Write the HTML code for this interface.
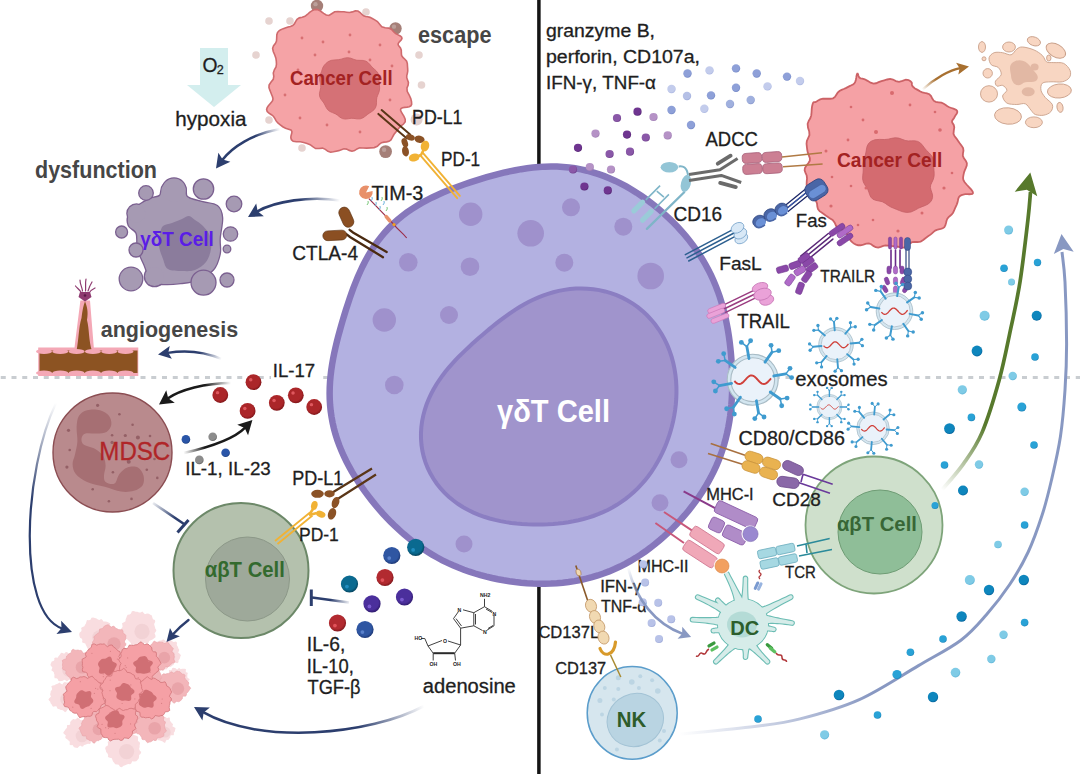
<!DOCTYPE html><html><head><meta charset="utf-8"><style>
html,body{margin:0;padding:0;background:#fff;overflow:hidden;width:1080px;height:775px;}
svg{display:block;font-family:"Liberation Sans",sans-serif;}
</style></head><body>
<svg width="1080" height="775" viewBox="0 0 1080 775">
<defs><linearGradient id="g1" gradientUnits="userSpaceOnUse" x1="280" y1="129" x2="255" y2="135"><stop offset="0" stop-color="#2c3e6e" stop-opacity="0.0"/><stop offset="1" stop-color="#2c3e6e" stop-opacity="1"/></linearGradient><linearGradient id="g2" gradientUnits="userSpaceOnUse" x1="340" y1="200.5" x2="300" y2="197"><stop offset="0" stop-color="#2c3e6e" stop-opacity="0.0"/><stop offset="1" stop-color="#2c3e6e" stop-opacity="1"/></linearGradient><linearGradient id="g3" gradientUnits="userSpaceOnUse" x1="221.5" y1="359" x2="200" y2="351"><stop offset="0" stop-color="#2c3e6e" stop-opacity="0.0"/><stop offset="1" stop-color="#2c3e6e" stop-opacity="1"/></linearGradient><radialGradient id="rg0" cx="0.45" cy="0.42" r="0.6"><stop offset="0" stop-color="#ab2629"/><stop offset="0.7" stop-color="#ab2629"/><stop offset="1" stop-color="#7c1418"/></radialGradient><radialGradient id="rg1" cx="0.45" cy="0.42" r="0.6"><stop offset="0" stop-color="#2a55a8"/><stop offset="0.7" stop-color="#2a55a8"/><stop offset="1" stop-color="#173a7a"/></radialGradient><radialGradient id="rg2" cx="0.45" cy="0.42" r="0.6"><stop offset="0" stop-color="#8c8c8c"/><stop offset="0.7" stop-color="#8c8c8c"/><stop offset="1" stop-color="#5e5e5e"/></radialGradient><linearGradient id="g4" gradientUnits="userSpaceOnUse" x1="231" y1="383" x2="205" y2="385"><stop offset="0" stop-color="#1a1a1a" stop-opacity="0.0"/><stop offset="1" stop-color="#1a1a1a" stop-opacity="1"/></linearGradient><linearGradient id="g5" gradientUnits="userSpaceOnUse" x1="183.6" y1="453" x2="205" y2="448"><stop offset="0" stop-color="#1a1a1a" stop-opacity="0.0"/><stop offset="1" stop-color="#1a1a1a" stop-opacity="1"/></linearGradient><linearGradient id="g6" gradientUnits="userSpaceOnUse" x1="153" y1="503" x2="175" y2="518"><stop offset="0" stop-color="#2c3e6e" stop-opacity="0.1"/><stop offset="1" stop-color="#2c3e6e" stop-opacity="1"/></linearGradient><radialGradient id="rg3" cx="0.45" cy="0.42" r="0.6"><stop offset="0" stop-color="#0a6a90"/><stop offset="0.7" stop-color="#0a6a90"/><stop offset="1" stop-color="#053f58"/></radialGradient><radialGradient id="rg4" cx="0.45" cy="0.42" r="0.6"><stop offset="0" stop-color="#2f56a2"/><stop offset="0.7" stop-color="#2f56a2"/><stop offset="1" stop-color="#1b3470"/></radialGradient><radialGradient id="rg5" cx="0.45" cy="0.42" r="0.6"><stop offset="0" stop-color="#b22a30"/><stop offset="0.7" stop-color="#b22a30"/><stop offset="1" stop-color="#7a1519"/></radialGradient><radialGradient id="rg6" cx="0.45" cy="0.42" r="0.6"><stop offset="0" stop-color="#4b2f9c"/><stop offset="0.7" stop-color="#4b2f9c"/><stop offset="1" stop-color="#2c1868"/></radialGradient><linearGradient id="g7" gradientUnits="userSpaceOnUse" x1="349" y1="602.5" x2="312" y2="597.5"><stop offset="0" stop-color="#2c3e6e" stop-opacity="0.1"/><stop offset="0.5" stop-color="#2c3e6e" stop-opacity="1"/><stop offset="1" stop-color="#2c3e6e" stop-opacity="1"/></linearGradient><linearGradient id="g8" gradientUnits="userSpaceOnUse" x1="56" y1="403" x2="36" y2="500"><stop offset="0" stop-color="#2c3e6e" stop-opacity="0.0"/><stop offset="1" stop-color="#2c3e6e" stop-opacity="1"/></linearGradient><linearGradient id="g9" gradientUnits="userSpaceOnUse" x1="424" y1="706" x2="360" y2="733"><stop offset="0" stop-color="#2c3e6e" stop-opacity="0.0"/><stop offset="1" stop-color="#2c3e6e" stop-opacity="1"/></linearGradient><radialGradient id="rg7" cx="0.45" cy="0.42" r="0.6"><stop offset="0" stop-color="#6f3590"/><stop offset="0.7" stop-color="#6f3590"/><stop offset="1" stop-color="#4f1f6e"/></radialGradient><radialGradient id="rg8" cx="0.45" cy="0.42" r="0.6"><stop offset="0" stop-color="#8a58a8"/><stop offset="0.7" stop-color="#8a58a8"/><stop offset="1" stop-color="#6a3a88"/></radialGradient><radialGradient id="rg9" cx="0.45" cy="0.42" r="0.6"><stop offset="0" stop-color="#b592c6"/><stop offset="0.7" stop-color="#b592c6"/><stop offset="1" stop-color="#9a78b0"/></radialGradient><radialGradient id="rg10" cx="0.45" cy="0.42" r="0.6"><stop offset="0" stop-color="#8ea0d8"/><stop offset="0.7" stop-color="#8ea0d8"/><stop offset="1" stop-color="#6f84c4"/></radialGradient><radialGradient id="rg11" cx="0.45" cy="0.42" r="0.6"><stop offset="0" stop-color="#c3ccec"/><stop offset="0.7" stop-color="#c3ccec"/><stop offset="1" stop-color="#a8b4e0"/></radialGradient><radialGradient id="rg12" cx="0.45" cy="0.42" r="0.6"><stop offset="0" stop-color="#b5c0e6"/><stop offset="0.7" stop-color="#b5c0e6"/><stop offset="1" stop-color="#98a6d8"/></radialGradient><radialGradient id="rg13" cx="0.45" cy="0.42" r="0.6"><stop offset="0" stop-color="#a0b0de"/><stop offset="0.7" stop-color="#a0b0de"/><stop offset="1" stop-color="#8494ca"/></radialGradient><linearGradient id="g10" gradientUnits="userSpaceOnUse" x1="922.4" y1="89.6" x2="935" y2="78"><stop offset="0" stop-color="#a87030" stop-opacity="0.0"/><stop offset="1" stop-color="#a87030" stop-opacity="1"/></linearGradient><linearGradient id="g11" gradientUnits="userSpaceOnUse" x1="942" y1="490" x2="985" y2="425"><stop offset="0" stop-color="#57792c" stop-opacity="0"/><stop offset="1" stop-color="#57792c" stop-opacity="1"/></linearGradient><linearGradient id="g12" gradientUnits="userSpaceOnUse" x1="679" y1="734" x2="870" y2="690"><stop offset="0" stop-color="#8898c2" stop-opacity="0"/><stop offset="1" stop-color="#8898c2" stop-opacity="1"/></linearGradient><radialGradient id="rg14" cx="0.45" cy="0.42" r="0.6"><stop offset="0" stop-color="#7fcbe6"/><stop offset="0.7" stop-color="#7fcbe6"/><stop offset="1" stop-color="#5db3d6"/></radialGradient><radialGradient id="rg15" cx="0.45" cy="0.42" r="0.6"><stop offset="0" stop-color="#29a2d6"/><stop offset="0.7" stop-color="#29a2d6"/><stop offset="1" stop-color="#1a80b5"/></radialGradient><radialGradient id="rg16" cx="0.45" cy="0.42" r="0.6"><stop offset="0" stop-color="#0e86bd"/><stop offset="0.7" stop-color="#0e86bd"/><stop offset="1" stop-color="#06629a"/></radialGradient><radialGradient id="rg17" cx="0.45" cy="0.42" r="0.6"><stop offset="0" stop-color="#b8c2e8"/><stop offset="0.7" stop-color="#b8c2e8"/><stop offset="1" stop-color="#9aa6d6"/></radialGradient><linearGradient id="g13" gradientUnits="userSpaceOnUse" x1="628" y1="567.3" x2="640" y2="600"><stop offset="0" stop-color="#8898c2" stop-opacity="0.0"/><stop offset="1" stop-color="#8898c2" stop-opacity="1"/></linearGradient></defs>
<line x1="538.9" y1="0" x2="538.9" y2="774" stroke="#141414" stroke-width="3.5"/>
<line x1="0" y1="377.5" x2="1080" y2="377.5" stroke="#c9cdd1" stroke-width="3" stroke-dasharray="5,5.75" stroke-dashoffset="-0.75"/>
<path d="M732.18,376 L732.25,381.69 L732.22,387.39 L732.07,393.1 L731.79,398.81 L731.39,404.52 L730.85,410.24 L730.15,415.95 L729.31,421.65 L728.29,427.33 L727.11,433 L725.75,438.63 L724.21,444.22 L722.48,449.77 L720.57,455.27 L718.48,460.71 L716.21,466.08 L713.76,471.38 L711.13,476.6 L708.35,481.74 L705.4,486.79 L702.3,491.76 L699.05,496.64 L695.66,501.43 L692.14,506.13 L688.5,510.74 L684.73,515.25 L680.84,519.67 L676.83,524 L672.71,528.22 L668.48,532.35 L664.13,536.37 L659.67,540.27 L655.1,544.06 L650.42,547.72 L645.62,551.25 L640.72,554.63 L635.7,557.86 L630.58,560.93 L625.35,563.82 L620.02,566.54 L614.59,569.07 L609.08,571.4 L603.48,573.54 L597.81,575.46 L592.07,577.18 L586.28,578.7 L580.44,580 L574.56,581.1 L568.65,582 L562.72,582.71 L556.78,583.22 L550.83,583.55 L544.88,583.7 L538.93,583.68 L533,583.5 L527.08,583.16 L521.18,582.67 L515.3,582.03 L509.45,581.24 L503.62,580.31 L497.83,579.24 L492.06,578.03 L486.34,576.67 L480.65,575.16 L475.01,573.5 L469.41,571.7 L463.88,569.73 L458.4,567.61 L452.99,565.33 L447.65,562.89 L442.39,560.29 L437.21,557.53 L432.13,554.62 L427.14,551.55 L422.25,548.33 L417.47,544.96 L412.79,541.46 L408.21,537.83 L403.75,534.07 L399.39,530.2 L395.13,526.22 L390.98,522.14 L386.92,517.96 L382.97,513.7 L379.11,509.34 L375.35,504.91 L371.69,500.39 L368.12,495.79 L364.65,491.11 L361.29,486.35 L358.03,481.51 L354.9,476.58 L351.89,471.56 L349.02,466.46 L346.3,461.26 L343.75,455.98 L341.37,450.61 L339.19,445.15 L337.2,439.62 L335.43,434.01 L333.89,428.34 L332.58,422.61 L331.51,416.83 L330.68,411.01 L330.09,405.17 L329.74,399.32 L329.62,393.47 L329.73,387.62 L330.04,381.8 L330.55,376 L331.24,370.24 L332.1,364.51 L333.09,358.83 L334.22,353.19 L335.45,347.6 L336.78,342.04 L338.18,336.53 L339.66,331.04 L341.19,325.58 L342.77,320.14 L344.4,314.72 L346.09,309.31 L347.83,303.91 L349.64,298.51 L351.52,293.12 L353.49,287.74 L355.56,282.38 L357.75,277.03 L360.08,271.72 L362.55,266.46 L365.19,261.25 L368,256.12 L371.01,251.09 L374.21,246.16 L377.61,241.36 L381.22,236.7 L385.03,232.2 L389.04,227.87 L393.24,223.72 L397.62,219.77 L402.17,216.01 L406.88,212.44 L411.72,209.08 L416.69,205.9 L421.77,202.92 L426.93,200.1 L432.17,197.45 L437.47,194.95 L442.82,192.59 L448.22,190.35 L453.65,188.23 L459.1,186.19 L464.58,184.25 L470.09,182.38 L475.62,180.58 L481.18,178.86 L486.77,177.2 L492.4,175.62 L498.06,174.12 L503.77,172.71 L509.53,171.41 L515.33,170.22 L521.17,169.17 L527.07,168.26 L533,167.53 L538.97,166.98 L544.97,166.63 L550.99,166.49 L557.03,166.59 L563.06,166.92 L569.08,167.49 L575.08,168.32 L581.04,169.4 L586.96,170.73 L592.81,172.3 L598.6,174.12 L604.3,176.16 L609.92,178.43 L615.45,180.91 L620.88,183.58 L626.2,186.43 L631.43,189.46 L636.54,192.65 L641.56,195.98 L646.46,199.45 L651.26,203.06 L655.95,206.78 L660.53,210.62 L665,214.57 L669.36,218.63 L673.6,222.8 L677.73,227.08 L681.73,231.46 L685.6,235.94 L689.34,240.53 L692.93,245.22 L696.38,250.02 L699.67,254.91 L702.79,259.9 L705.75,264.98 L708.53,270.15 L711.14,275.4 L713.58,280.72 L715.83,286.11 L717.91,291.55 L719.82,297.05 L721.56,302.59 L723.14,308.16 L724.57,313.76 L725.85,319.37 L726.99,325.01 L728,330.65 L728.89,336.31 L729.67,341.97 L730.33,347.63 L730.9,353.29 L731.37,358.96 L731.74,364.64 L732.01,370.31Z" fill="#b3b1e1" stroke="#8677bb" stroke-width="6.5"/>
<path d="M675.15,410 L674.24,415.67 L673.12,421.26 L671.8,426.77 L670.28,432.19 L668.56,437.52 L666.66,442.75 L664.58,447.88 L662.31,452.9 L659.86,457.81 L657.23,462.6 L654.42,467.27 L651.43,471.8 L648.26,476.18 L644.91,480.41 L641.38,484.47 L637.69,488.36 L633.82,492.06 L629.81,495.56 L625.64,498.87 L621.34,501.96 L616.91,504.84 L612.36,507.5 L607.72,509.95 L602.98,512.17 L598.17,514.19 L593.3,515.99 L588.38,517.59 L583.42,519 L578.42,520.22 L573.4,521.28 L568.35,522.16 L563.29,522.9 L558.21,523.49 L553.12,523.95 L548,524.28 L542.86,524.48 L537.69,524.56 L532.49,524.52 L527.25,524.34 L521.97,524.03 L516.66,523.56 L511.31,522.93 L505.92,522.13 L500.5,521.13 L495.07,519.92 L489.63,518.47 L484.2,516.78 L478.81,514.81 L473.48,512.57 L468.24,510.02 L463.11,507.17 L458.13,504 L453.33,500.51 L448.75,496.71 L444.43,492.6 L440.38,488.19 L436.66,483.49 L433.28,478.54 L430.28,473.35 L427.67,467.95 L425.48,462.37 L423.71,456.65 L422.37,450.82 L421.47,444.92 L421.01,438.98 L420.97,433.05 L421.34,427.16 L422.11,421.33 L423.25,415.6 L424.74,410 L426.55,404.55 L428.65,399.26 L431.01,394.15 L433.59,389.24 L436.36,384.52 L439.29,380 L442.36,375.68 L445.53,371.54 L448.78,367.59 L452.09,363.81 L455.43,360.18 L458.79,356.7 L462.17,353.34 L465.54,350.09 L468.92,346.93 L472.29,343.85 L475.66,340.83 L479.03,337.86 L482.41,334.93 L485.82,332.02 L489.25,329.14 L492.73,326.28 L496.28,323.43 L499.89,320.6 L503.6,317.79 L507.4,315.02 L511.33,312.29 L515.38,309.6 L519.57,306.99 L523.91,304.46 L528.41,302.04 L533.06,299.74 L537.88,297.59 L542.86,295.61 L548,293.82 L553.29,292.24 L558.72,290.91 L564.28,289.85 L569.95,289.07 L575.71,288.6 L581.55,288.45 L587.43,288.65 L593.33,289.21 L599.23,290.13 L605.1,291.44 L610.9,293.12 L616.6,295.19 L622.17,297.64 L627.58,300.47 L632.81,303.66 L637.81,307.2 L642.58,311.08 L647.08,315.27 L651.29,319.76 L655.2,324.51 L658.79,329.51 L662.05,334.72 L664.97,340.11 L667.56,345.66 L669.8,351.35 L671.7,357.13 L673.27,362.99 L674.51,368.89 L675.44,374.83 L676.07,380.77 L676.41,386.7 L676.47,392.6 L676.27,398.46 L675.83,404.26Z" fill="#a094cc" stroke="#8b7ec2" stroke-width="4"/>
<circle cx="470.7" cy="214.3" r="11.7" fill="#9f91cc"/>
<circle cx="530.7" cy="233.3" r="13.3" fill="#9f91cc"/>
<circle cx="571" cy="207.3" r="9" fill="#9f91cc"/>
<circle cx="623.3" cy="226.7" r="9" fill="#9f91cc"/>
<circle cx="650.7" cy="276" r="13.3" fill="#9f91cc"/>
<circle cx="564.3" cy="262.7" r="9" fill="#9f91cc"/>
<circle cx="470" cy="266.7" r="9.3" fill="#9f91cc"/>
<circle cx="408.3" cy="262.3" r="9.3" fill="#9f91cc"/>
<circle cx="449" cy="315" r="9" fill="#9f91cc"/>
<circle cx="384.3" cy="320" r="11.7" fill="#9f91cc"/>
<circle cx="394.3" cy="385" r="9.3" fill="#9f91cc"/>
<circle cx="679" cy="459.7" r="8.5" fill="#9f91cc"/>
<circle cx="660" cy="502.8" r="8.5" fill="#9f91cc"/>
<circle cx="464" cy="544" r="8.5" fill="#9f91cc"/>
<text x="497" y="421.9" font-size="31.4" fill="#ffffff" font-weight="bold" text-anchor="start" textLength="113" lengthAdjust="spacingAndGlyphs" >γδT Cell</text>
<path d="M200,48 H228 V85 H241 L214,107 L187,85 H200Z" fill="#d3eeee"/>
<text x="202.5" y="71.9" font-size="20" fill="#1e1e1e" font-weight="normal" text-anchor="start" textLength="15" lengthAdjust="spacingAndGlyphs" stroke="#1e1e1e" stroke-width="0.3" >O</text>
<text x="216.8" y="74.3" font-size="13.5" fill="#1e1e1e" font-weight="normal" text-anchor="start" textLength="7" lengthAdjust="spacingAndGlyphs" stroke="#1e1e1e" stroke-width="0.3" >2</text>
<text x="175.3" y="125.8" font-size="20.4" fill="#1e1e1e" font-weight="normal" text-anchor="start" textLength="71.2" lengthAdjust="spacingAndGlyphs" stroke="#1e1e1e" stroke-width="0.3" >hypoxia</text>
<text x="418" y="42.9" font-size="23.5" fill="#464646" font-weight="bold" text-anchor="start" textLength="73.5" lengthAdjust="spacingAndGlyphs" >escape</text>
<text x="35" y="178" font-size="23.5" fill="#464646" font-weight="bold" text-anchor="start" textLength="122" lengthAdjust="spacingAndGlyphs" >dysfunction</text>
<text x="100.8" y="337.2" font-size="22.7" fill="#464646" font-weight="bold" text-anchor="start" textLength="137.3" lengthAdjust="spacingAndGlyphs" >angiogenesis</text>
<circle cx="317" cy="6" r="6.2" fill="#a57f78"/>
<circle cx="315.5" cy="4.2" r="2.17" fill="#ffffff" opacity="0.25"/>
<circle cx="395.5" cy="28.5" r="6.2" fill="#a57f78"/>
<circle cx="394.0" cy="26.7" r="2.17" fill="#ffffff" opacity="0.25"/>
<circle cx="385.6" cy="151.6" r="6.4" fill="#a57f78"/>
<circle cx="384.1" cy="149.79999999999998" r="2.2399999999999998" fill="#ffffff" opacity="0.25"/>
<circle cx="269" cy="21" r="3.8" fill="#e6d3d0"/>
<circle cx="290" cy="21" r="3.8" fill="#e6d3d0"/>
<circle cx="366" cy="12" r="3.8" fill="#e6d3d0"/>
<circle cx="256" cy="55" r="3.8" fill="#e6d3d0"/>
<circle cx="419" cy="55" r="3.8" fill="#e6d3d0"/>
<circle cx="421.5" cy="85" r="3.8" fill="#e6d3d0"/>
<circle cx="269" cy="120" r="3.8" fill="#e6d3d0"/>
<circle cx="302" cy="148" r="3.8" fill="#e6d3d0"/>
<circle cx="416.6" cy="119.4" r="6" fill="#e2cfcd"/>
<circle cx="415.1" cy="117.60000000000001" r="2.0999999999999996" fill="#ffffff" opacity="0.25"/>
<path d="M313.93,9.81 L315.83,9.35 L317.61,9.6 L319.42,10.45 L321.38,11.74 L323.64,13.39 L326.22,15.03 L328.94,15.45 L331.66,13.72 L334.66,11.76 L337.9,11.51 L341.05,11.77 L343.98,11.82 L346.76,12.17 L349.5,12.46 L352.34,11.89 L355.28,10.91 L357.96,10.98 L360.14,12.51 L361.93,14.47 L363.67,15.83 L365.61,16.46 L367.75,16.78 L369.98,17.36 L372.26,18.49 L374.77,19.91 L377.43,21.6 L379.64,24.21 L381.78,26.82 L385.1,27.76 L388.82,28.12 L391.61,29.5 L393.56,31.74 L395.67,33.62 L398.14,34.89 L400.29,36.02 L401.65,37.25 L401.96,38.49 L401.37,39.69 L400.28,40.9 L399.08,42.15 L398.21,43.49 L398.17,44.89 L399.12,46.35 L400.46,48.02 L401.29,50.23 L401.34,52.9 L401.58,55.43 L402.87,57.42 L404.89,59.2 L406.63,61.23 L407.34,63.64 L407.49,66.18 L407.67,68.64 L407.75,71.04 L407.35,73.36 L406.78,75.57 L406.75,77.72 L407.54,79.96 L408.42,82.41 L408.17,85.07 L406.98,87.98 L407.19,91.29 L409.21,95 L410.78,98.6 L411.52,101.73 L411.68,104.22 L410.9,105.83 L409.24,106.7 L407.07,107.11 L404.73,107.36 L402.56,107.73 L400.97,108.53 L400.5,109.9 L401.12,111.71 L402.43,113.91 L403.97,116.45 L405.17,119.17 L405.25,121.78 L403.53,124.02 L400.75,126.12 L398.34,128.81 L396.1,131.73 L393.92,134.51 L392.37,137.4 L390.96,139.84 L389.04,141.32 L386.61,141.9 L384.01,142.11 L381.59,142.69 L379.51,144.22 L377.31,146.32 L374.21,147.59 L370.44,147.86 L366.71,148.14 L363.01,148.01 L359.66,147.86 L356.99,148.9 L354.58,150.57 L352.02,151.24 L349.27,150.38 L346.55,149.09 L343.93,148.82 L341.35,149.69 L338.74,150.64 L336.11,151.25 L333.42,151.83 L330.66,152.18 L327.93,151.38 L325.33,149.39 L322.52,148.1 L319.1,148.53 L315.6,148.56 L312.76,146.7 L310.15,144.67 L307.08,143.51 L303.75,142.49 L300.2,141.82 L296.34,141.81 L293.18,141.27 L291.42,139.7 L290.85,137.84 L290.96,136.14 L291.39,134.55 L291.82,132.97 L291.88,131.39 L290.97,130.03 L288.61,129.18 L285.53,128.3 L282.76,126.74 L280.26,124.86 L277.86,122.99 L276.12,120.93 L274.97,118.64 L273.58,116.47 L271.44,114.72 L268.97,113.19 L267.19,111.49 L266.62,109.54 L267.17,107.58 L268.4,105.76 L269.91,104.03 L271.4,102.33 L272.56,100.58 L272.98,98.74 L272.5,96.81 L271.65,94.74 L270.79,92.51 L269.84,90.17 L268.97,87.7 L269.09,85.05 L270.93,82.23 L273.25,79.33 L273.79,76.31 L273.29,73.03 L274.35,69.87 L276.02,67 L276.47,64.09 L276.31,61.12 L275.89,58.15 L274.76,54.95 L273.26,51.52 L272.63,48.34 L273.59,45.75 L275.35,43.54 L276.49,41.03 L276.69,37.98 L276.8,34.98 L277.5,32.61 L278.76,31.01 L280.34,29.93 L282.07,29.12 L283.9,28.41 L285.87,27.72 L288.05,27.06 L290.43,26.42 L292.67,25.56 L294.36,23.95 L295.59,21.57 L297.04,19.23 L299.28,17.88 L302.19,17.32 L305.02,16.38 L307.35,14.47 L309.56,12.42 L311.81,10.89Z" fill="#f5a3a6" stroke="#cf6a6d" stroke-width="1.6"/>
<path d="M324.29,65.27 L325.93,63.43 L328.25,61.59 L331.38,60.34 L334.96,59.9 L338.28,59.7 L341.27,59.13 L344.31,58.17 L347.59,57.63 L350.91,58.23 L353.94,59.44 L356.84,60.25 L359.95,60.37 L363.15,60.43 L366.01,61.2 L368.22,62.69 L369.88,64.49 L371.33,66.25 L372.82,67.83 L374.47,69.31 L376.21,70.86 L377.79,72.8 L378.8,75.31 L379.09,78.13 L379.08,80.82 L379.22,83.16 L379.46,85.16 L379.61,87.05 L379.59,88.95 L379.29,90.96 L378.61,93.09 L377.68,95.3 L376.87,97.55 L376.52,99.96 L376.52,102.56 L376.32,105.2 L375.51,107.69 L373.98,109.83 L371.88,111.49 L369.66,112.9 L367.57,114.38 L365.47,116.08 L363.05,117.81 L360.14,118.86 L356.94,118.87 L353.92,118.42 L351.14,118.31 L348.32,118.72 L345.37,119.09 L342.48,118.62 L339.94,117.18 L337.64,115.29 L335.2,113.69 L332.39,112.57 L329.6,111.32 L327.46,109.49 L326.06,107.28 L324.99,105.06 L323.83,103.01 L322.41,101.08 L320.86,99.05 L319.68,96.6 L319.42,93.69 L320.05,90.64 L320.71,87.77 L320.66,85.09 L320.09,82.42 L319.6,79.69 L319.62,77.13 L320.16,74.89 L320.97,72.99 L321.65,71.33 L322.1,69.81 L322.55,68.34 L323.22,66.87Z" fill="#d57176" stroke="#c66367" stroke-width="0.8"/>
<circle cx="302" cy="38" r="1.4" fill="#d87073"/>
<circle cx="323" cy="42" r="1.4" fill="#d87073"/>
<circle cx="350" cy="35" r="1.4" fill="#d87073"/>
<circle cx="380" cy="45" r="1.4" fill="#d87073"/>
<circle cx="392" cy="66" r="1.4" fill="#d87073"/>
<circle cx="298" cy="70" r="1.4" fill="#d87073"/>
<circle cx="285" cy="95" r="1.4" fill="#d87073"/>
<circle cx="300" cy="118" r="1.4" fill="#d87073"/>
<circle cx="327" cy="125" r="1.4" fill="#d87073"/>
<circle cx="360" cy="132" r="1.4" fill="#d87073"/>
<circle cx="390" cy="100" r="1.4" fill="#d87073"/>
<circle cx="315" cy="55" r="1.4" fill="#d87073"/>
<circle cx="370" cy="60" r="1.4" fill="#d87073"/>
<circle cx="349" cy="52" r="1.4" fill="#d87073"/>
<circle cx="381" cy="116" r="1.4" fill="#d87073"/>
<path d="M128.9,215.2 C130.42,211.93 134.48,208.7 138,206 C141.52,203.3 146.33,200.72 150,199 C153.67,197.28 157.83,197.87 160,195.7 C162.17,193.53 160.4,188.53 163,186 C165.6,183.47 171.93,180.33 175.6,180.5 C179.27,180.67 183.1,184.25 185,187 C186.9,189.75 184.25,194.5 187,197 C189.75,199.5 196.5,200.5 201.5,202 C206.5,203.5 213.58,203.37 217,206 C220.42,208.63 221.57,212.38 222,217.8 C222.43,223.22 220,232.47 219.6,238.5 C219.2,244.53 220.7,248.82 219.6,254 C218.5,259.18 216.88,265.27 213,269.6 C209.12,273.93 201.68,277.77 196.3,280 C190.92,282.23 185.92,282.33 180.7,283 C175.48,283.67 169.78,284.28 165,284 C160.22,283.72 155.43,284.55 152,281.3 C148.57,278.05 146.73,269.88 144.4,264.5 C142.07,259.12 139.28,254.2 138,249 C136.72,243.8 138.22,237.2 136.7,233.3 C135.18,229.4 130.2,228.62 128.9,225.6 C127.6,222.58 127.38,218.47 128.9,215.2Z" fill="#a69ab3" stroke="#7b6090" stroke-width="2.6"/>
<circle cx="136.5" cy="213.5" r="9" fill="#a69ab3" stroke="#7b6090" stroke-width="2.6"/>
<circle cx="154.5" cy="276.5" r="9.5" fill="#a69ab3" stroke="#7b6090" stroke-width="2.6"/>
<circle cx="174" cy="190" r="11.5" fill="#a69ab3" stroke="#7b6090" stroke-width="2.6"/>
<path d="M128.9,215.2 C130.42,211.93 134.48,208.7 138,206 C141.52,203.3 146.33,200.72 150,199 C153.67,197.28 157.83,197.87 160,195.7 C162.17,193.53 160.4,188.53 163,186 C165.6,183.47 171.93,180.33 175.6,180.5 C179.27,180.67 183.1,184.25 185,187 C186.9,189.75 184.25,194.5 187,197 C189.75,199.5 196.5,200.5 201.5,202 C206.5,203.5 213.58,203.37 217,206 C220.42,208.63 221.57,212.38 222,217.8 C222.43,223.22 220,232.47 219.6,238.5 C219.2,244.53 220.7,248.82 219.6,254 C218.5,259.18 216.88,265.27 213,269.6 C209.12,273.93 201.68,277.77 196.3,280 C190.92,282.23 185.92,282.33 180.7,283 C175.48,283.67 169.78,284.28 165,284 C160.22,283.72 155.43,284.55 152,281.3 C148.57,278.05 146.73,269.88 144.4,264.5 C142.07,259.12 139.28,254.2 138,249 C136.72,243.8 138.22,237.2 136.7,233.3 C135.18,229.4 130.2,228.62 128.9,225.6 C127.6,222.58 127.38,218.47 128.9,215.2Z" fill="#a69ab3"/>
<circle cx="136.5" cy="213.5" r="9" fill="#a69ab3"/>
<circle cx="154.5" cy="276.5" r="9.5" fill="#a69ab3"/>
<circle cx="174" cy="190" r="11.5" fill="#a69ab3"/>
<circle cx="146" cy="193" r="7.3" fill="#a69ab3" stroke="#7b6090" stroke-width="1.3"/>
<circle cx="234" cy="204" r="7.8" fill="#a69ab3" stroke="#7b6090" stroke-width="1.3"/>
<circle cx="121.6" cy="232" r="6" fill="#a69ab3" stroke="#7b6090" stroke-width="1.3"/>
<circle cx="230.5" cy="234" r="7.2" fill="#a69ab3" stroke="#7b6090" stroke-width="1.3"/>
<circle cx="227" cy="249" r="3.8" fill="#a69ab3" stroke="#7b6090" stroke-width="1.3"/>
<circle cx="227" cy="280" r="7" fill="#a69ab3" stroke="#7b6090" stroke-width="1.3"/>
<circle cx="203.5" cy="189" r="10.2" fill="#a69ab3" stroke="#7b6090" stroke-width="1.3"/>
<circle cx="136" cy="250" r="7" fill="#a69ab3" stroke="#7b6090" stroke-width="1.3"/>
<circle cx="131" cy="279" r="11.8" fill="#a69ab3" stroke="#7b6090" stroke-width="1.3"/>
<circle cx="203.5" cy="282.6" r="12.5" fill="#a69ab3" stroke="#7b6090" stroke-width="1.3"/>
<path d="M163,226 C165,224.17 168.83,224.17 172,223 C175.17,221.83 179.17,220.17 182,219 C184.83,217.83 186.83,215.83 189,216 C191.17,216.17 192.67,218.33 195,220 C197.33,221.67 200.5,223.33 203,226 C205.5,228.67 208.67,232.17 210,236 C211.33,239.83 211.67,244.67 211,249 C210.33,253.33 208.67,258.5 206,262 C203.33,265.5 199,268.5 195,270 C191,271.5 186.5,271.17 182,271 C177.5,270.83 171.17,271 168,269 C164.83,267 164.5,262.83 163,259 C161.5,255.17 159.5,250.17 159,246 C158.5,241.83 159.33,237.33 160,234 C160.67,230.67 161,227.83 163,226Z" fill="#8b7c9c"/>
<text x="290" y="84.9" font-size="19.7" fill="#a32222" font-weight="bold" text-anchor="start" textLength="102.6" lengthAdjust="spacingAndGlyphs" >Cancer Cell</text>
<text x="140.3" y="246.3" font-size="20" fill="#5a1de6" font-weight="bold" text-anchor="start" textLength="73.5" lengthAdjust="spacingAndGlyphs" >γδT Cell</text>
<path d="M280,129 C252,134 232,147 222.27,160.08" fill="none" stroke="url(#g1)" stroke-width="2.6" stroke-linecap="round"/>
<path d="M216,168.5 L218.34,152.79 L222.69,159.51 L230.37,161.75Z" fill="#2c3e6e"/>
<path d="M340,200.5 C310,196 275,201 257.03,211.65" fill="none" stroke="url(#g2)" stroke-width="2.6" stroke-linecap="round"/>
<path d="M248,217 L256.22,203.41 L257.64,211.29 L263.87,216.31Z" fill="#2c3e6e"/>
<path d="M221.5,359 C205,352 185,350 167.62,352.9" fill="none" stroke="url(#g3)" stroke-width="2.4" stroke-linecap="round"/>
<path d="M158,354.5 L169.75,345.95 L168.26,352.79 L171.89,358.77Z" fill="#2c3e6e"/>
<path d="M38.2,347.5 H74.5 L80.4,300.4 H90 L93.8,347.5 H138.3 V376 H38.2Z" fill="#f4a8b6"/>
<rect x="39.5" y="350.5" width="98" height="22.5" fill="#8c5322"/>
<path d="M76.5,351 C79,338 78.5,328 81.5,318 C82.5,310 83.5,305 85,301.5 C87,306 88.5,312 87,320 C89.5,330 88.5,340 92,351Z" fill="#8c5322"/>
<ellipse cx="44" cy="351.5" rx="8" ry="2.6" fill="#f4a8b6"/><ellipse cx="60.3" cy="351.5" rx="8" ry="2.6" fill="#f4a8b6"/><ellipse cx="76.6" cy="351.5" rx="8" ry="2.6" fill="#f4a8b6"/><ellipse cx="92.9" cy="351.5" rx="8" ry="2.6" fill="#f4a8b6"/><ellipse cx="109.2" cy="351.5" rx="8" ry="2.6" fill="#f4a8b6"/><ellipse cx="125.5" cy="351.5" rx="8" ry="2.6" fill="#f4a8b6"/><ellipse cx="44" cy="373" rx="8" ry="2.6" fill="#f4a8b6"/><ellipse cx="60.3" cy="373" rx="8" ry="2.6" fill="#f4a8b6"/><ellipse cx="76.6" cy="373" rx="8" ry="2.6" fill="#f4a8b6"/><ellipse cx="92.9" cy="373" rx="8" ry="2.6" fill="#f4a8b6"/><ellipse cx="109.2" cy="373" rx="8" ry="2.6" fill="#f4a8b6"/><ellipse cx="125.5" cy="373" rx="8" ry="2.6" fill="#f4a8b6"/>
<path d="M80,292 L90,292 L91.5,297 L85,301.5 L78.5,297Z" fill="#8e3a70"/>
<circle cx="85" cy="295.5" r="1.3" fill="#5a1a45"/>
<path d="M81,292 C79,289 77,288 75.5,286 M82.5,291 C82,287 80,284 80,280 M85.5,291 C86,287 85,284 86,279 M88,291 C89,288 90,285 92,282 M89.5,292.5 C91,290 93,289 95,288" stroke="#8e3a70" stroke-width="1.2" fill="none" stroke-linecap="round"/>
<text x="412" y="123.7" font-size="19.8" fill="#1e1e1e" font-weight="normal" text-anchor="start" textLength="50.5" lengthAdjust="spacingAndGlyphs" stroke="#1e1e1e" stroke-width="0.3" >PD-L1</text>
<text x="441" y="165.8" font-size="19.5" fill="#1e1e1e" font-weight="normal" text-anchor="start" textLength="39.2" lengthAdjust="spacingAndGlyphs" stroke="#1e1e1e" stroke-width="0.3" >PD-1</text>
<text x="371.5" y="200.2" font-size="19.4" fill="#1e1e1e" font-weight="normal" text-anchor="start" textLength="51.8" lengthAdjust="spacingAndGlyphs" stroke="#1e1e1e" stroke-width="0.3" >TIM-3</text>
<text x="292.3" y="260.2" font-size="19.4" fill="#1e1e1e" font-weight="normal" text-anchor="start" textLength="65.8" lengthAdjust="spacingAndGlyphs" stroke="#1e1e1e" stroke-width="0.3" >CTLA-4</text>
<rect x="271" y="370" width="50" height="12" fill="#fff"/>
<text x="272.8" y="376.8" font-size="18.4" fill="#1e1e1e" font-weight="normal" text-anchor="start" textLength="42.4" lengthAdjust="spacingAndGlyphs" stroke="#1e1e1e" stroke-width="0.3" >IL-17</text>
<circle cx="112.5" cy="452.5" r="59.5" fill="#b98a8d" stroke="#8b4d52" stroke-width="1.4"/>
<path d="M87.1,410.2 C90.6,409.27 96.37,409.27 100,410.2 C103.63,411.13 107.02,413.38 108.9,415.8 C110.78,418.22 111.7,422.02 111.3,424.7 C110.9,427.38 108.92,430.43 106.5,431.9 C104.08,433.37 100.3,433.23 96.8,433.5 C93.3,433.77 88.05,432.68 85.5,433.5 C82.95,434.32 81.77,436.52 81.5,438.4 C81.23,440.28 81.62,443.05 83.9,444.8 C86.18,446.55 91.98,447.02 95.2,448.9 C98.42,450.78 101.47,453.28 103.2,456.1 C104.93,458.92 105.47,462.57 105.6,465.8 C105.73,469.03 104,472.82 104,475.5 C104,478.18 103.85,480.57 105.6,481.9 C107.35,483.23 112.2,484.83 114.5,483.5 C116.8,482.17 117.25,476.58 119.4,473.9 C121.55,471.22 124.32,468.48 127.4,467.4 C130.48,466.32 135.22,466.05 137.9,467.4 C140.58,468.75 142.7,472.53 143.5,475.5 C144.3,478.47 144.3,482.65 142.7,485.2 C141.1,487.75 137.52,489.73 133.9,490.8 C130.28,491.87 125.85,492.27 121,491.6 C116.15,490.93 110.45,488.42 104.8,486.8 C99.15,485.18 91.93,484.05 87.1,481.9 C82.27,479.75 78.22,476.85 75.8,473.9 C73.38,470.95 72.73,467.43 72.6,464.2 C72.47,460.97 74.2,458.27 75,454.5 C75.8,450.73 77.13,446.17 77.4,441.6 C77.67,437.03 76.33,431.4 76.6,427.1 C76.87,422.8 77.25,418.62 79,415.8 C80.75,412.98 83.6,411.13 87.1,410.2Z" fill="#a66f73"/>
<circle cx="97.6" cy="405.3" r="1.6" fill="#946066"/>
<circle cx="119.4" cy="414.2" r="1.3" fill="#946066"/>
<circle cx="132.6" cy="424.7" r="1.3" fill="#946066"/>
<circle cx="112.1" cy="435.2" r="1.3" fill="#946066"/>
<circle cx="125.3" cy="435.5" r="1.6" fill="#946066"/>
<circle cx="137.9" cy="437.6" r="2" fill="#946066"/>
<circle cx="150" cy="436" r="1.3" fill="#946066"/>
<circle cx="68.5" cy="430.3" r="1.6" fill="#946066"/>
<circle cx="69.7" cy="450" r="1.3" fill="#946066"/>
<circle cx="66.9" cy="467.1" r="1.6" fill="#946066"/>
<circle cx="112.1" cy="442.4" r="1.6" fill="#946066"/>
<circle cx="128.7" cy="461.8" r="2" fill="#946066"/>
<circle cx="154.5" cy="459" r="1.3" fill="#946066"/>
<circle cx="146.8" cy="469.8" r="1.3" fill="#946066"/>
<circle cx="157.3" cy="477.9" r="1.3" fill="#946066"/>
<circle cx="112.9" cy="472.3" r="1.3" fill="#946066"/>
<circle cx="92.7" cy="489.2" r="1.3" fill="#946066"/>
<circle cx="108.9" cy="501.3" r="1.3" fill="#946066"/>
<circle cx="131.5" cy="498.9" r="1.3" fill="#946066"/>
<text x="99.3" y="460.2" font-size="25.5" fill="#b02528" font-weight="normal" text-anchor="start" textLength="71" lengthAdjust="spacingAndGlyphs" stroke="#b02528" stroke-width="0.3" >MDSC</text>
<circle cx="253.5" cy="382.2" r="7.9" fill="url(#rg0)"/>
<circle cx="250.74" cy="379.83" r="1.74" fill="#f06a70" opacity="0.75"/>
<circle cx="220.3" cy="395" r="7.9" fill="url(#rg0)"/>
<circle cx="217.54" cy="392.63" r="1.74" fill="#f06a70" opacity="0.75"/>
<circle cx="247.6" cy="410.9" r="7.9" fill="url(#rg0)"/>
<circle cx="244.84" cy="408.53" r="1.74" fill="#f06a70" opacity="0.75"/>
<circle cx="276.8" cy="402.8" r="7.9" fill="url(#rg0)"/>
<circle cx="274.04" cy="400.43" r="1.74" fill="#f06a70" opacity="0.75"/>
<circle cx="295.8" cy="395.3" r="7.9" fill="url(#rg0)"/>
<circle cx="293.04" cy="392.93" r="1.74" fill="#f06a70" opacity="0.75"/>
<circle cx="314.2" cy="407" r="7.9" fill="url(#rg0)"/>
<circle cx="311.44" cy="404.63" r="1.74" fill="#f06a70" opacity="0.75"/>
<circle cx="185.9" cy="439.4" r="4.3" fill="url(#rg1)"/>
<circle cx="212.7" cy="436.7" r="4.3" fill="url(#rg2)"/>
<circle cx="199.3" cy="459.9" r="4.3" fill="url(#rg2)"/>
<circle cx="225.6" cy="452.7" r="4.3" fill="url(#rg1)"/>
<text x="185.2" y="475" font-size="18.4" fill="#1e1e1e" font-weight="normal" text-anchor="start" textLength="85.6" lengthAdjust="spacingAndGlyphs" stroke="#1e1e1e" stroke-width="0.3" >IL-1, IL-23</text>
<path d="M231,383 C205,383 180,390 167.64,398.53" fill="none" stroke="url(#g4)" stroke-width="2.6" stroke-linecap="round"/>
<path d="M159,404.5 L166.26,390.37 L168.22,398.14 L174.78,402.72Z" fill="#1a1a1a"/>
<path d="M183.6,453 C210,447 235,438 245.1,427.55" fill="none" stroke="url(#g5)" stroke-width="2.6" stroke-linecap="round"/>
<path d="M252.4,420 L248.06,435.28 L244.62,428.05 L237.28,424.85Z" fill="#1a1a1a"/>
<path d="M153,503 L184,524" stroke="url(#g6)" stroke-width="2.6" fill="none"/>
<path d="M177.5,532.5 L188.5,520" stroke="#2c3e6e" stroke-width="3" fill="none"/>
<circle cx="241" cy="570.5" r="67.5" fill="#b4c1ad" stroke="#6c8868" stroke-width="2"/>
<circle cx="247.5" cy="579" r="42" fill="#9ea99a" stroke="#8c9888" stroke-width="1"/>
<text x="204.8" y="577.1" font-size="21.7" fill="#336a2e" font-weight="bold" text-anchor="start" textLength="80" lengthAdjust="spacingAndGlyphs" >αβT Cell</text>
<path d="M372,468.5 L330,494 M376,474.5 L336,500" stroke="#5a3617" stroke-width="2.2" fill="none"/>
<ellipse cx="317.5" cy="493.8" rx="6.3" ry="4" transform="rotate(0 317.5 493.8)" fill="#8b5226"/>
<ellipse cx="329.5" cy="493.8" rx="5.2" ry="3.6" transform="rotate(0 329.5 493.8)" fill="#8b5226"/>
<ellipse cx="335.5" cy="502.5" rx="3.6" ry="5.8" transform="rotate(20 335.5 502.5)" fill="#8b5226"/>
<ellipse cx="332" cy="513.8" rx="3.9" ry="6" transform="rotate(20 332 513.8)" fill="#8b5226"/>
<path d="M275,541 L310,512.5 M277.5,544 L312.5,515.5" stroke="#f1b235" stroke-width="1.8" fill="none"/>
<ellipse cx="314.3" cy="505.5" rx="3.2" ry="4.6" transform="rotate(15 314.3 505.5)" fill="#f1b235" stroke="none" stroke-width="0.8"/>
<ellipse cx="320.8" cy="514.2" rx="4.8" ry="3.2" transform="rotate(20 320.8 514.2)" fill="#f1b235" stroke="none" stroke-width="0.8"/>
<path d="M309,515 L313,509 M309,515 L317,513" stroke="#f1b235" stroke-width="2.6" fill="none"/>
<text x="292.2" y="484.6" font-size="19.5" fill="#1e1e1e" font-weight="normal" text-anchor="start" textLength="51" lengthAdjust="spacingAndGlyphs" stroke="#1e1e1e" stroke-width="0.3" >PD-L1</text>
<text x="299" y="541" font-size="19" fill="#1e1e1e" font-weight="normal" text-anchor="start" textLength="39.8" lengthAdjust="spacingAndGlyphs" stroke="#1e1e1e" stroke-width="0.3" >PD-1</text>
<circle cx="415.7" cy="547.3" r="8.6" fill="url(#rg3)"/>
<circle cx="413.12" cy="549.88" r="1.89" fill="#2a9ad0" opacity="0.75"/>
<circle cx="391.8" cy="555.5" r="8.6" fill="url(#rg4)"/>
<circle cx="389.22" cy="558.08" r="1.89" fill="#6a90d8" opacity="0.75"/>
<circle cx="385" cy="577.5" r="8.6" fill="url(#rg5)"/>
<circle cx="382.42" cy="580.08" r="1.89" fill="#f06068" opacity="0.75"/>
<circle cx="349.5" cy="584" r="8.6" fill="url(#rg3)"/>
<circle cx="346.92" cy="586.58" r="1.89" fill="#2a9ad0" opacity="0.75"/>
<circle cx="404.5" cy="597" r="8.6" fill="url(#rg6)"/>
<circle cx="401.92" cy="599.58" r="1.89" fill="#8a6ae0" opacity="0.75"/>
<circle cx="372" cy="603.8" r="8.6" fill="url(#rg6)"/>
<circle cx="369.42" cy="606.38" r="1.89" fill="#8a6ae0" opacity="0.75"/>
<circle cx="337.5" cy="623" r="8.6" fill="url(#rg5)"/>
<circle cx="334.92" cy="625.58" r="1.89" fill="#f06068" opacity="0.75"/>
<circle cx="365" cy="629.5" r="8.6" fill="url(#rg4)"/>
<circle cx="362.42" cy="632.08" r="1.89" fill="#6a90d8" opacity="0.75"/>
<path d="M349,602.5 L312,597.5" stroke="url(#g7)" stroke-width="2.6" fill="none"/>
<path d="M311.3,589.5 L311.3,606" stroke="#2c3e6e" stroke-width="3" fill="none"/>
<text x="306.8" y="651" font-size="19.8" fill="#1e1e1e" font-weight="normal" text-anchor="start" textLength="38.5" lengthAdjust="spacingAndGlyphs" stroke="#1e1e1e" stroke-width="0.3" >IL-6,</text>
<text x="306.8" y="672.5" font-size="19.8" fill="#1e1e1e" font-weight="normal" text-anchor="start" textLength="47" lengthAdjust="spacingAndGlyphs" stroke="#1e1e1e" stroke-width="0.3" >IL-10,</text>
<text x="307.5" y="694" font-size="19.8" fill="#1e1e1e" font-weight="normal" text-anchor="start" textLength="53" lengthAdjust="spacingAndGlyphs" stroke="#1e1e1e" stroke-width="0.3" >TGF-β</text>
<text x="422.8" y="692.6" font-size="20" fill="#1e1e1e" font-weight="normal" text-anchor="start" textLength="93" lengthAdjust="spacingAndGlyphs" stroke="#1e1e1e" stroke-width="0.3" >adenosine</text>
<g stroke="#2a2a2a" stroke-width="0.9" fill="none" stroke-linejoin="round"><path d="M484.5,598.8 L484.5,606.7 L492.5,611.5 M494,615 L494,625.8 L486.5,630.5 M482.5,630.5 L473.8,625.8 L473.8,612.7 L484.5,606.7"/><path d="M486,609 L492,612.5 M475.5,614 L475.5,624.5 M488,628.5 L493,625.5"/><path d="M473.8,612.7 L463,609.8 M458.5,611.5 L453.5,618.6 L460.6,628.2 L473.8,625.8 M456,618.6 L461.5,626"/><path d="M460.6,628.2 L460.6,645 L448,641 M442,640.5 L428,646 L433.2,653.2 M454.7,653.2 L460.6,645"/><path d="M428,646 L424.8,638.5 L421,638.5 M433.2,653.2 L433.2,660.5 M454.7,653.2 L455.5,660.5"/></g>
<path d="M433.2,653.2 L454.7,653.2" stroke="#2a2a2a" stroke-width="2"/>
<text x="480" y="597" font-size="5.2" fill="#222" font-weight="bold" text-anchor="start" >NH2</text>
<text x="492.5" y="615.5" font-size="5.2" fill="#222" font-weight="bold" text-anchor="start" >N</text>
<text x="483" y="633.5" font-size="5.2" fill="#222" font-weight="bold" text-anchor="start" >N</text>
<text x="457.5" y="612" font-size="5.2" fill="#222" font-weight="bold" text-anchor="start" >N</text>
<text x="443" y="642.5" font-size="5.2" fill="#222" font-weight="bold" text-anchor="start" >O</text>
<text x="414.5" y="640" font-size="5.2" fill="#222" font-weight="bold" text-anchor="start" >HO</text>
<text x="429.5" y="666" font-size="5.2" fill="#222" font-weight="bold" text-anchor="start" >OH</text>
<text x="453" y="666" font-size="5.2" fill="#222" font-weight="bold" text-anchor="start" >OH</text>
<path d="M111.25,634.4 L111.37,635.86 L112.65,637.61 L112.23,639.17 L110.65,640.26 L110.93,642.11 L111.03,644.11 L109.69,645.23 L108.44,646.34 L106.62,646.73 L104.73,646.72 L103.96,648.35 L102.71,649.39 L100.77,648.49 L99.36,648.79 L98.03,649.91 L96.5,650.4 L94.82,651.44 L93.14,651.27 L91.91,649.54 L90.23,649.53 L88.28,649.78 L87.39,648.04 L86.65,646.4 L85.81,645.09 L85.33,643.57 L83.63,643 L82.01,642.15 L82.41,640.24 L81.91,638.82 L80.07,637.67 L79.5,636.07 L79.25,634.4 L79.52,632.73 L81.26,631.37 L81.6,629.88 L81.08,628.01 L82.71,627.03 L84.42,626.33 L84.95,624.93 L85.81,623.71 L86.32,621.99 L86.96,620.12 L88.87,620.13 L90.46,619.82 L91.49,617.87 L93.12,617.41 L94.89,618.06 L96.5,618.4 L97.96,619.6 L99.39,619.89 L101.2,618.92 L102.48,619.96 L103.37,621.56 L105.16,621.43 L106.95,621.67 L108.44,622.46 L110.06,623.27 L110.24,625.22 L110.23,627.06 L111.97,627.99 L112.54,629.54 L111.45,631.43 L111.34,632.94Z" fill="#f9dde0"/>
<circle cx="99.5" cy="637.4" r="7.2" fill="#f2d2d5"/>
<path d="M155.3,628.5 L156.37,630.21 L155.75,631.83 L154.55,633.22 L155.4,635.29 L155.53,637.33 L153.88,638.44 L152.52,639.6 L150.86,640.36 L149.2,640.93 L148.49,642.71 L147.01,643.49 L144.87,642.68 L143.56,643.54 L142.31,645.13 L140.69,645.71 L139,646.52 L137.25,646.26 L135.72,644.97 L133.85,645.49 L131.89,645.67 L130.95,643.56 L130.02,641.94 L128.79,640.94 L127.84,639.66 L126.07,639.11 L124.7,638.06 L124.94,636.01 L123.83,634.78 L121.61,633.78 L121.12,632.06 L121.09,630.26 L121.3,628.5 L122.54,626.88 L122.4,625.2 L122.02,623.35 L123.99,622.28 L125.54,621.31 L125.61,619.55 L126.24,618.03 L126.82,616.32 L127.63,614.65 L129.61,614.44 L130.99,613.51 L131.86,611.27 L133.69,611 L135.68,611.79 L137.36,611.87 L139,612.52 L140.58,612.43 L142.36,611.62 L143.72,612.95 L144.9,614.25 L146.98,613.58 L148.91,613.67 L150.36,614.66 L151.88,615.62 L152.36,617.54 L152.97,619.17 L154.93,619.99 L155.25,621.77 L154.14,623.91 L154.47,625.42 L154.93,626.93Z" fill="#f9dde0"/>
<circle cx="142" cy="631.5" r="7.65" fill="#f2d2d5"/>
<path d="M179.69,653.7 L180.98,655.18 L180.32,656.55 L180.03,657.96 L179.45,659.27 L178.5,660.38 L178.6,662.12 L177.53,663.16 L175.07,662.77 L174,663.45 L173.48,664.9 L172.31,665.5 L171.29,666.47 L170.02,666.94 L168.57,666.61 L167.43,668.19 L166,669.68 L164.54,668.53 L163.24,667.58 L161.88,667.29 L160.76,666.35 L159.37,666.1 L158.21,665.36 L158.2,663.21 L157.25,662.45 L155.09,662.65 L154.09,661.66 L153.37,660.45 L152.5,659.29 L152.52,657.79 L151.49,656.59 L150.23,655.25 L151.69,653.7 L153.12,652.43 L152.86,651.09 L153.24,649.83 L153.58,648.56 L153.81,647.18 L155.32,646.56 L155.88,645.4 L155.27,642.97 L156.24,641.81 L157.93,641.62 L159.11,640.81 L160.57,640.6 L161.89,640.15 L163.11,639.15 L164.68,640.32 L166,641.68 L167.28,640.66 L168.7,640.12 L170,640.5 L171.48,640.48 L172.57,641.4 L173.76,642.08 L175.96,641.57 L177.05,642.65 L176.74,644.89 L177.37,646.1 L178.06,647.25 L178.36,648.58 L179.32,649.66 L178.95,651.12 L178.1,652.51Z" fill="#f9dde0"/>
<circle cx="169" cy="656.7" r="6.3" fill="#f2d2d5"/>
<path d="M80.31,667.3 L78.6,668.59 L77.93,669.77 L77.87,671.05 L77.57,672.3 L78.18,674.08 L77.7,675.45 L75.91,675.85 L75.57,677.37 L75.41,679.38 L73.89,679.85 L72.37,680.15 L70.83,680.18 L69.22,679.57 L68.14,680.59 L66.9,681.51 L65.5,680.15 L64.27,679.78 L62.81,680.81 L61.36,680.95 L59.75,681.18 L58.29,680.79 L57.74,678.91 L56.53,678.23 L54.62,678.18 L54.34,676.46 L54.51,674.65 L53.98,673.46 L53.84,672.13 L52.73,671.17 L51.28,670.13 L52.04,668.63 L52.31,667.3 L50.74,665.85 L50.47,664.31 L51.08,662.93 L51.7,661.58 L53.48,660.88 L54.42,659.9 L54.27,658.08 L55.77,657.57 L57.65,657.73 L58.33,656.57 L59.17,655.46 L60.12,654.31 L61.09,652.77 L62.68,653.12 L64.15,653.64 L65.5,652.15 L67.02,651.92 L68.28,653.35 L69.49,654.15 L70.47,655.31 L71.49,656.1 L73.3,655.63 L74.3,656.58 L74.42,658.38 L75.98,658.7 L77.79,659.09 L78.68,660.26 L79.71,661.41 L79.52,663.05 L78.74,664.67 L79.9,665.88Z" fill="#f9dde0"/>
<circle cx="68.5" cy="670.3" r="6.3" fill="#f2d2d5"/>
<path d="M79.04,696.3 L78.03,697.73 L77.73,699.13 L77.4,700.52 L76.61,701.73 L76.59,703.3 L75.28,704.17 L72.95,704.06 L72.43,705.23 L72.27,706.99 L71.09,707.66 L70.07,708.59 L68.87,709.26 L67.48,709.41 L66.46,711.16 L65.07,712.24 L63.5,710.69 L62.16,709.88 L60.77,710 L59.56,709.28 L58.23,709.02 L57.1,708.27 L56.72,706.44 L55.31,706.28 L53.03,706.77 L52.16,705.61 L51.54,704.29 L50.56,703.22 L50.29,701.77 L49.24,700.63 L48.4,699.3 L50.05,697.62 L51.04,696.3 L50.16,694.99 L50.27,693.67 L50.6,692.39 L50.74,691.02 L51.9,690.1 L52,688.62 L51.31,686.29 L52.64,685.44 L54.51,685.34 L55.53,684.38 L56.87,683.9 L58.15,683.39 L59.35,682.62 L60.99,683.7 L62.33,684.38 L63.5,682.69 L64.91,682.02 L66.24,682.54 L67.69,682.49 L68.95,683.15 L70.3,683.57 L72.28,683.16 L73.07,684.64 L72.83,686.97 L73.8,687.84 L74.82,688.73 L75.25,690.02 L76.16,691.06 L76.03,692.5 L75.86,693.84 L77.92,694.88Z" fill="#f9dde0"/>
<circle cx="66.5" cy="699.3" r="6.3" fill="#f2d2d5"/>
<path d="M91.14,733 L91.84,734.26 L92.47,735.68 L92.47,737.09 L92.75,738.7 L91.63,739.75 L90.47,740.66 L90.85,742.73 L90.04,744.04 L87.9,743.85 L86.51,744.24 L85.22,744.64 L83.96,744.97 L83.06,746.38 L81.67,746.43 L80.22,745.38 L79,746.59 L77.52,747.98 L76.08,747.65 L74.63,747.41 L73.42,746.48 L72.54,745.09 L70.86,745.18 L69.57,744.49 L69.82,742.18 L69.35,740.92 L68.07,740.3 L67.26,739.27 L65.87,738.44 L65.18,737.19 L65.86,735.61 L64.74,734.4 L63.14,733 L63.98,731.52 L65.01,730.22 L65.68,728.96 L66.88,727.98 L66.94,726.55 L67.19,725.11 L69.21,724.96 L70.24,724.24 L70.14,722.2 L70.96,720.96 L72.02,719.95 L73.24,719.1 L74.93,719.58 L76.21,718.96 L77.48,717.52 L79,718.59 L80.27,720.11 L81.55,720.19 L82.76,720.62 L84.13,720.61 L85.74,720.39 L86.42,721.9 L87.33,722.85 L89.62,722.38 L91,723.15 L91.35,724.75 L91.96,726.07 L91.74,727.72 L91.98,729.06 L93.32,730.15 L92.61,731.66Z" fill="#f9dde0"/>
<circle cx="82" cy="736" r="6.3" fill="#f2d2d5"/>
<path d="M139.16,748.6 L139.52,750.17 L141.17,752.1 L140.64,753.77 L139.1,755.02 L139.09,756.88 L138.62,758.64 L137.41,759.93 L136.3,761.3 L134.11,761.4 L132.13,761.36 L131.41,763.22 L130.12,764.33 L128.25,763.94 L126.77,764.53 L125.23,765.16 L123.6,765.69 L121.78,767.13 L120.01,766.67 L118.73,764.67 L117.02,764.48 L115.2,764.31 L114.15,762.74 L113.04,761.46 L112.34,759.86 L111.89,758.21 L109.76,757.85 L107.97,756.95 L108.17,754.99 L107.49,753.49 L106.19,752.06 L105.82,750.35 L105.16,748.6 L105.69,746.84 L107.83,745.46 L108.1,743.9 L107.68,742.01 L109.11,740.85 L110.35,739.75 L111.13,738.36 L112.25,737.25 L112.54,735.12 L113.24,733.09 L115.39,733.23 L117.1,732.92 L118.38,731.4 L120.14,731.19 L121.9,731.33 L123.6,731.69 L125.11,733.29 L126.64,733.32 L128.6,732.13 L130.03,733.07 L131.23,734.32 L133.04,734.47 L134.61,735.18 L136.39,735.81 L138.17,736.64 L138.03,738.96 L137.96,740.92 L139.58,741.98 L140.03,743.62 L139.54,745.43 L139.66,747.02Z" fill="#f9dde0"/>
<circle cx="126.6" cy="751.6" r="7.65" fill="#f2d2d5"/>
<path d="M175.26,729.2 L174.95,730.45 L174.67,731.66 L173.73,732.67 L173.96,734.03 L173.62,735.25 L171.34,735.24 L170.25,735.73 L170.34,737.24 L169.63,738.14 L168.95,739.16 L168.1,740.04 L166.71,739.84 L165.89,741.04 L165.03,742.93 L163.58,742.24 L162.3,741.13 L161.13,741.06 L160.07,740.41 L158.92,740.34 L157.68,740.34 L157.29,738.58 L156.57,737.77 L154.59,738.59 L153.3,738.2 L152.59,737.17 L151.63,736.33 L151.53,734.96 L150.85,733.94 L149.33,733.14 L150.14,731.62 L151.67,730.25 L151.26,729.2 L151.06,728.09 L151.13,726.98 L150.76,725.7 L151.79,724.85 L152.45,723.94 L151.38,721.9 L151.7,720.5 L153.37,720.27 L154.41,719.58 L155.62,719.2 L156.78,718.88 L157.52,717.67 L158.93,718.08 L160.35,719.39 L161.23,718.35 L162.3,717.13 L163.48,717.17 L164.75,716.87 L165.89,717.37 L166.87,718.17 L168.6,717.41 L169.91,717.82 L169.82,720.04 L170.27,721.23 L171.14,721.94 L171.58,723 L172.69,723.64 L173.02,724.76 L172.29,726.17 L173.68,726.94 L175.55,727.89Z" fill="#f9dde0"/>
<circle cx="165.3" cy="732.2" r="5.4" fill="#f2d2d5"/>
<path d="M189.63,678.9 L189.4,680.04 L188.21,680.97 L188.86,682.26 L189.11,683.59 L188.32,684.52 L187.69,685.51 L186.01,685.63 L184.5,685.6 L184.59,687.17 L183.95,688.1 L182.45,687.6 L181.65,688.19 L180.9,689.1 L179.97,689.81 L179.03,691.35 L177.8,691.22 L176.74,689.62 L175.6,689.98 L174.31,690.42 L173.56,689.14 L172.83,688.2 L172.28,687.16 L171.93,686.05 L170.27,686.43 L168.81,686.28 L169.06,684.74 L168.39,683.93 L166.88,683.42 L166.34,682.38 L165.65,681.32 L165.89,680.07 L167.63,678.9 L167.51,677.89 L166.63,676.68 L167.81,675.87 L168.79,675.17 L168.92,674.15 L169.4,673.28 L169,671.68 L168.95,670.05 L170.63,670.16 L171.73,669.81 L172.08,668.2 L173.23,667.87 L174.51,668.05 L175.68,668.23 L176.87,669.45 L177.8,669.22 L178.9,667.72 L179.89,668.4 L180.69,669.36 L181.98,668.82 L183.2,668.8 L184.51,668.86 L185.89,669.04 L185.82,670.88 L185.82,672.32 L187.35,672.52 L187.8,673.56 L187.21,675 L187.39,675.99 L187.23,677.02 L187.79,677.92Z" fill="#f9dde0"/>
<circle cx="180.8" cy="681.9" r="4.95" fill="#f2d2d5"/>
<circle cx="121" cy="692" r="44" fill="#f2b3b7"/>
<path d="M124.29,642 L125.74,643.55 L125.82,645.15 L124.37,646.36 L124.35,647.95 L124.42,649.71 L123.92,651.3 L123.68,653.23 L122.03,654.03 L119.77,653.91 L118.92,655.35 L117.84,656.67 L115.93,656.31 L114.37,656.39 L112.89,656.51 L111.43,656.57 L110,658.28 L108.33,658.95 L106.92,657.49 L105.33,657.4 L103.42,657.88 L101.98,657 L100.58,656.1 L99.71,654.54 L99.68,652.32 L98.29,651.61 L96.5,651.02 L96.56,649.18 L96.3,647.68 L95.13,646.51 L94.45,645.09 L93.04,643.67 L92.29,642 L93.9,640.41 L94.43,638.9 L93.75,637.07 L94.79,635.7 L96.2,634.62 L97.32,633.53 L98.95,632.93 L99.4,631.4 L99.47,629.17 L101.14,628.74 L102.76,628.45 L103.68,626.74 L105.08,625.77 L106.64,625.12 L108.3,624.72 L110,626.28 L111.47,627.1 L113.16,626.11 L114.62,626.78 L115.67,628.32 L117.07,628.78 L118.36,629.49 L120.01,629.8 L122.31,629.69 L123.03,631.31 L123.11,633.24 L124.78,634.1 L125.86,635.43 L125.75,637.22 L125.84,638.85 L124.88,640.53Z" fill="#f3b6ba" stroke="#eaa3a8" stroke-width="0.6"/>
<circle cx="114" cy="644" r="6.72" fill="#e9a4a9"/>
<path d="M92.4,665.3 L92.44,666.72 L92.15,668.11 L90.98,669.24 L91.63,670.95 L92.6,673.1 L91.24,674.15 L89.85,675.02 L89.06,676.36 L87.69,677.11 L86.65,678.25 L85.37,679.09 L83.25,677.98 L81.83,677.92 L80.86,679.66 L79.45,680.05 L78,680 L76.52,680.33 L75.12,679.77 L73.49,680.18 L71.47,681.06 L70.45,679.42 L69.9,677.42 L68.53,676.84 L67.54,675.76 L66.73,674.55 L65.72,673.51 L66.01,671.71 L65.65,670.42 L63.28,669.77 L62.36,668.41 L62.79,666.8 L62.4,665.3 L62.58,663.78 L62.73,662.26 L62.27,660.53 L63.91,659.46 L66.14,658.96 L66.3,657.48 L66.66,655.99 L67.84,655.14 L68.66,653.92 L69.99,653.31 L71.23,652.63 L71.77,650.26 L73.12,649.21 L75,650.24 L76.51,650.19 L78,650 L79.46,650.47 L80.97,650.35 L82.2,651.47 L82.95,653.34 L84.6,652.96 L86.57,652.48 L87.56,653.65 L88.76,654.54 L89.92,655.52 L90.66,656.84 L92.47,657.57 L93.36,658.94 L91.99,661.06 L91.78,662.56 L92.64,663.86Z" fill="#f3b6ba" stroke="#eaa3a8" stroke-width="0.6"/>
<circle cx="82" cy="667.3" r="6.3" fill="#e9a4a9"/>
<path d="M189.48,686.6 L190.69,688.25 L189.54,689.71 L188.61,691.06 L187.75,692.34 L186.5,693.34 L186.4,694.95 L185.57,696.17 L183.35,696.05 L182.46,697.03 L182.23,699.06 L181.11,700.08 L179.92,701.13 L178.49,701.74 L176.81,701.22 L175.44,702.21 L173.9,703.33 L172.4,701.78 L171.15,700.4 L169.77,700.2 L168.55,699.51 L167.04,699.44 L165.51,699.16 L165.06,697.37 L163.87,696.63 L161.42,696.84 L160.33,695.67 L159.95,694.06 L159.38,692.61 L159.73,690.9 L159.24,689.52 L158.16,688.15 L159.48,686.6 L160.83,685.31 L160.12,683.86 L159.91,682.35 L160.03,680.86 L160.04,679.19 L161.46,678.29 L162.38,677.14 L162.14,674.84 L163.43,673.84 L165.56,674.12 L166.97,673.63 L168.44,673.42 L169.78,673.03 L170.95,671.79 L172.5,672.36 L173.9,673.33 L175.35,671.93 L177.01,670.98 L178.48,671.5 L180.03,671.8 L181.18,672.98 L182.18,674.21 L184.09,674.18 L185.08,675.42 L184.61,677.81 L185.27,679 L186.41,679.92 L187.1,681.13 L188.43,682.19 L188.66,683.66 L188.01,685.21Z" fill="#f3b6ba" stroke="#eaa3a8" stroke-width="0.6"/>
<circle cx="177.9" cy="688.6" r="6.3" fill="#e9a4a9"/>
<path d="M107.58,727.3 L109.56,728.78 L109.23,730.23 L108.21,731.46 L108.05,732.91 L107.21,734.09 L106.66,735.42 L106.14,736.85 L103.93,736.73 L102.22,736.7 L101.92,738.4 L100.98,739.42 L99.67,739.78 L98.54,740.63 L97.15,740.62 L95.88,741.27 L94.5,743.16 L92.98,742.69 L91.79,740.94 L90.43,740.73 L89.13,740.25 L88.04,739.38 L86.74,738.92 L86.33,737.26 L85.99,735.81 L83.86,736.03 L82.21,735.51 L81.97,734 L81.14,732.83 L80.62,731.51 L80.32,730.12 L79.04,728.82 L79.58,727.3 L81.69,726.04 L81.76,724.77 L81.42,723.33 L82.19,722.2 L82.51,720.89 L83.38,719.87 L84.5,719.09 L84.13,716.93 L84.45,715.06 L86.36,715.12 L87.78,714.73 L88.96,713.91 L90.42,713.83 L91.69,713.16 L93.13,713.41 L94.5,715.16 L95.73,714.83 L97.25,713.48 L98.55,713.94 L99.85,714.38 L101.24,714.68 L102.29,715.63 L104.09,715.62 L105.79,716.01 L105.5,718.27 L105.49,719.96 L106.66,720.8 L107.01,722.12 L107.42,723.38 L107.78,724.66 L106.9,726.08Z" fill="#f3b6ba" stroke="#eaa3a8" stroke-width="0.6"/>
<circle cx="98.5" cy="729.3" r="5.88" fill="#e9a4a9"/>
<path d="M164.7,726.3 L164.8,727.69 L165.44,729.23 L166.45,731.08 L165.15,732.29 L163.72,733.26 L163.96,735.16 L163.2,736.56 L161.55,737.15 L160.19,737.86 L158.36,737.77 L157.04,738.15 L156.45,740.17 L155.06,740.66 L153.41,739.94 L152.14,740.89 L150.7,741.82 L149.14,742.12 L147.45,742.65 L146.13,741.37 L145.21,739.55 L143.52,739.73 L142.03,739.27 L141.63,737.35 L140.85,736.15 L140.05,735.04 L139.19,733.99 L137.03,733.61 L135.99,732.39 L136.66,730.56 L135.75,729.27 L134.45,727.9 L134.7,726.3 L134.94,724.75 L136.02,723.38 L137.74,722.37 L137.44,720.81 L137.26,719.12 L139.01,718.49 L140.01,717.53 L140.33,715.93 L141.16,714.67 L141.7,712.82 L142.89,711.7 L144.96,712.45 L146.35,711.95 L147.56,710.52 L149.2,711.04 L150.7,711.82 L152.08,712.26 L153.3,713.23 L154.84,712.66 L156.69,711.83 L157.66,713.28 L158.7,714.33 L160.66,714.16 L162.06,714.94 L163.24,716.01 L164.14,717.32 L163.49,719.47 L163.71,720.91 L165.37,721.85 L165.17,723.42 L164.31,724.96Z" fill="#f3b6ba" stroke="#eaa3a8" stroke-width="0.6"/>
<circle cx="154.7" cy="728.3" r="6.3" fill="#e9a4a9"/>
<path d="M173.98,655.6 L174.35,656.98 L173.8,658.29 L173.95,659.74 L175.04,661.71 L173.8,662.82 L171.69,663.21 L171.01,664.39 L170.07,665.37 L168.9,666.07 L168,667.12 L166.34,666.9 L164.97,666.87 L164.38,669.06 L163.22,670.3 L161.71,669.89 L160.3,670.18 L158.88,670.05 L157.48,669.76 L155.83,670.34 L154.71,669.09 L154.36,666.71 L153.14,666.32 L151.65,666.14 L150.85,665.05 L149.7,664.3 L149.05,663.11 L148.66,661.82 L146.48,661.32 L145.07,660.22 L146.01,658.44 L146.21,656.99 L145.98,655.6 L146.49,654.24 L146.34,652.82 L147.16,651.61 L149.17,650.99 L149.11,649.62 L148.41,647.66 L149.37,646.63 L150.27,645.57 L151.13,644.43 L152.44,643.84 L153.14,642.21 L154.25,641 L156.25,642.26 L157.76,642.84 L158.96,642.02 L160.3,642.18 L161.62,642.18 L162.95,642.3 L163.96,643.55 L165.43,643.22 L167.56,642.02 L168.69,643.04 L169.41,644.5 L170.65,645.25 L171.34,646.54 L172.34,647.56 L173.36,648.62 L172.35,650.61 L171.86,652.09 L173.47,652.98 L174.07,654.24Z" fill="#f3b6ba" stroke="#eaa3a8" stroke-width="0.6"/>
<circle cx="164.3" cy="657.6" r="5.88" fill="#e9a4a9"/>
<path d="M121.63,663.4 L121.28,665.27 L120.47,667.01 L122.03,669.38 L122.49,671.76 L120.01,672.87 L118.54,674.25 L117.72,676.06 L116.1,677.2 L114.98,678.85 L113.12,679.6 L110.49,678.72 L109.23,680.13 L108.15,682.7 L106.17,682.86 L104.23,682.97 L102.3,683.39 L100.38,682.89 L98.24,683.83 L95.99,684.2 L94.85,681.38 L93.67,679.55 L91.57,679.46 L90.15,678.21 L88.77,676.93 L87.43,675.6 L87.36,673.38 L85.71,672.27 L82.63,671.55 L82.35,669.45 L82.93,667.25 L82.24,665.38 L82.43,663.4 L82.27,661.43 L82.03,659.37 L84.52,658.01 L86.27,656.76 L85.44,654.39 L85.95,652.48 L87.42,651.19 L88.38,649.48 L90.11,648.54 L91.35,647.01 L92.01,644.15 L94.23,643.91 L96.77,645.19 L98.52,644.41 L100.39,643.96 L102.3,644.19 L104.22,643.88 L105.88,645.39 L107.37,646.69 L109.85,645.16 L112.15,644.98 L113.34,646.87 L115.01,647.91 L116.49,649.21 L117.73,650.73 L119.95,651.61 L120.28,653.79 L118.85,656.55 L119.86,658.07 L121.37,659.61 L121.25,661.53Z" fill="#f5a0a5" stroke="#d27478" stroke-width="0.8"/>
<path d="M116.36,666.3 L115.46,667.64 L114.82,668.84 L114.43,670.09 L113.92,671.33 L113.09,672.39 L112.11,673.33 L111.11,674.37 L109.95,675.39 L108.51,675.84 L107,675.31 L105.75,674.17 L104.71,673.36 L103.39,673.38 L101.58,673.76 L99.79,673.51 L98.86,672.21 L99,670.37 L99.5,668.74 L99.46,667.49 L98.76,666.3 L98.08,664.89 L98.08,663.4 L98.75,662.1 L99.68,660.98 L100.64,659.94 L101.76,659.09 L103.12,658.68 L104.51,658.65 L105.76,658.46 L107,657.71 L108.51,656.79 L110.15,656.62 L111.38,657.7 L111.92,659.52 L112.24,661.06 L113.1,661.87 L114.69,662.38 L116.24,663.3 L116.84,664.74Z" fill="#d06f74"/>
<circle cx="110.4" cy="651.32" r="0.6" fill="#d98085"/>
<circle cx="112.33" cy="674.67" r="0.6" fill="#d98085"/>
<circle cx="117.38" cy="659.08" r="0.6" fill="#d98085"/>
<circle cx="103.31" cy="676.63" r="0.6" fill="#d98085"/>
<circle cx="103.24" cy="673.98" r="0.6" fill="#d98085"/>
<circle cx="91.93" cy="653.34" r="0.6" fill="#d98085"/>
<path d="M161.05,663.4 L159.31,665.4 L157.78,667.14 L158.76,669.39 L158.11,671.32 L156.05,672.51 L154.87,674.01 L153.23,675.08 L152.23,676.63 L152.28,679.58 L150.52,680.65 L148.08,680.39 L146.79,682.2 L145.18,683.77 L143.11,684.06 L141.08,684.54 L139,683.17 L137.21,681.58 L135.14,682.82 L133.08,682.91 L131.8,680.79 L130.11,680.03 L128.22,679.54 L126.42,678.73 L123.72,678.68 L122.37,677.05 L122.76,674.25 L121.2,672.92 L119.3,671.56 L119.54,669.3 L119.6,667.26 L120.1,665.26 L121.05,663.4 L119.5,661.48 L118.55,659.33 L120.48,657.78 L121.16,656.01 L120.77,653.66 L121.61,651.78 L122.31,649.7 L123.95,648.35 L126.91,648.66 L128.3,647.39 L129.23,645.11 L131.48,645.24 L133.57,645.49 L135.31,644.83 L137.16,644.73 L139,643.17 L141.13,641.77 L142.94,643.59 L144.69,644.63 L147.1,643.83 L148.97,644.75 L150.44,646.28 L151.79,647.81 L152,650.4 L153.29,651.67 L156.02,652.03 L156.47,654.06 L156.26,656.25 L157.81,657.69 L158.84,659.45 L159.91,661.34Z" fill="#f5a0a5" stroke="#d27478" stroke-width="0.8"/>
<path d="M151.62,665.3 L150.5,666.49 L150.2,667.64 L150.52,669.13 L150.58,670.81 L149.83,672.13 L148.48,672.85 L147.03,673.2 L145.68,673.55 L144.35,673.82 L143,673.76 L141.72,673.41 L140.44,673.16 L138.96,673.22 L137.28,673.17 L135.93,672.37 L135.47,670.77 L135.81,668.96 L136.04,667.56 L135.36,666.51 L134.02,665.3 L133.11,663.73 L133.46,662.2 L134.83,661.14 L136.34,660.46 L137.39,659.69 L138.14,658.61 L139.04,657.52 L140.24,656.81 L141.6,656.44 L143,656.16 L144.47,656.03 L145.88,656.42 L146.95,657.54 L147.63,658.93 L148.37,659.93 L149.71,660.42 L151.49,660.97 L152.77,662.12 L152.74,663.76Z" fill="#d06f74"/>
<circle cx="127.66" cy="657.97" r="0.6" fill="#d98085"/>
<circle cx="126.24" cy="667.36" r="0.6" fill="#d98085"/>
<circle cx="125.24" cy="665.64" r="0.6" fill="#d98085"/>
<circle cx="138.21" cy="677.49" r="0.6" fill="#d98085"/>
<circle cx="150.13" cy="672.24" r="0.6" fill="#d98085"/>
<circle cx="148.82" cy="661.19" r="0.6" fill="#d98085"/>
<path d="M103.97,696.3 L103.22,698.2 L104.31,700.36 L105.36,702.81 L103.03,704.22 L101,705.44 L100.5,707.39 L99.1,708.78 L97.9,710.3 L96.53,711.7 L93.98,711.39 L92.55,712.48 L91.87,715.53 L89.98,716.35 L87.85,716.16 L85.92,716.82 L83.9,716.51 L81.87,716.91 L79.64,717.69 L78.12,715.36 L76.96,713.05 L74.82,713.29 L72.96,712.67 L71.56,711.34 L69.83,710.37 L69.15,708.41 L67.86,707.02 L64.7,706.56 L63.74,704.65 L64.67,702.13 L64.09,700.24 L63.85,698.27 L63.97,696.3 L63.41,694.28 L65.07,692.56 L67.08,691.2 L66.08,688.92 L65.73,686.59 L67.24,685.17 L68.18,683.4 L69.61,682.01 L71.16,680.78 L71.76,678.13 L73.69,677.2 L76.56,678.58 L78.37,678.07 L80.05,676.92 L82,677.01 L83.9,676.51 L85.79,677.1 L87.45,678.46 L89.73,677.08 L92.27,676.1 L93.68,678.01 L95.18,679.41 L96.93,680.42 L98.11,682.09 L100.07,683.03 L101.12,684.79 L99.97,687.71 L100.7,689.34 L102.95,690.52 L103.33,692.44 L103.66,694.35Z" fill="#f5a0a5" stroke="#d27478" stroke-width="0.8"/>
<path d="M92.84,699.2 L93.36,700.7 L92.96,702.14 L91.99,703.32 L90.99,704.35 L90.04,705.34 L88.95,706.14 L87.67,706.6 L86.42,706.94 L85.23,707.59 L83.9,708.53 L82.34,709.07 L80.87,708.51 L79.95,706.95 L79.45,705.33 L78.68,704.42 L77.18,704.08 L75.37,703.55 L74.25,702.34 L74.36,700.71 L75.24,699.2 L75.98,697.95 L76.22,696.7 L76.31,695.33 L76.75,694.01 L77.6,692.9 L78.6,691.91 L79.68,690.92 L80.98,690.2 L82.48,690.2 L83.9,690.93 L85.09,691.69 L86.31,691.77 L87.94,691.27 L89.79,691.09 L91.13,691.97 L91.42,693.74 L91.05,695.56 L90.99,696.9 L91.74,697.96Z" fill="#d06f74"/>
<circle cx="95.59" cy="688.38" r="0.6" fill="#d98085"/>
<circle cx="91.11" cy="708.46" r="0.6" fill="#d98085"/>
<circle cx="94.36" cy="693.45" r="0.6" fill="#d98085"/>
<circle cx="97.85" cy="689.12" r="0.6" fill="#d98085"/>
<circle cx="80.34" cy="681.69" r="0.6" fill="#d98085"/>
<circle cx="72.78" cy="707.18" r="0.6" fill="#d98085"/>
<path d="M171.26,698.2 L171.42,700.15 L170.03,701.86 L169.93,703.76 L169.42,705.58 L169.19,707.6 L169.79,710.36 L167.95,711.62 L165.19,711.79 L164.3,713.68 L163.04,715.33 L160.91,715.62 L159.09,716.28 L156.96,715.86 L155.05,715.55 L153.55,717.95 L151.6,718.96 L149.7,717.47 L147.76,717.51 L145.65,717.83 L143.71,717.26 L141.44,717.21 L140.1,715.41 L139.94,712.41 L138.15,711.65 L135.99,711.01 L135.67,708.85 L134.99,707.08 L134.18,705.42 L133.74,703.62 L131.36,702.23 L129.95,700.33 L131.66,698.2 L132.01,696.27 L131.19,694.14 L132.03,692.26 L132.84,690.43 L134.27,688.94 L136.87,688.36 L137.34,686.5 L137.19,683.79 L139.18,683.07 L141.04,682.4 L142.24,680.7 L143.94,679.7 L145.46,677.96 L147.33,676.71 L149.66,678.54 L151.6,679.36 L153.58,678.06 L155.48,678.67 L157.14,679.93 L158.86,680.67 L160.11,682.28 L162.1,682.48 L165.06,681.8 L166.15,683.65 L166.6,685.89 L168.59,686.85 L169.91,688.41 L170.76,690.26 L171.63,692.12 L170.2,694.5 L169.36,696.45Z" fill="#f5a0a5" stroke="#d27478" stroke-width="0.8"/>
<path d="M156.48,699.2 L155.23,700.53 L153.92,701.51 L153.43,702.58 L153.65,704.18 L153.66,706.06 L152.76,707.41 L151.13,707.7 L149.44,707.32 L148.05,707.08 L146.8,707.32 L145.46,707.67 L144.06,707.63 L142.75,707.16 L141.48,706.52 L140.21,705.79 L139.16,704.75 L138.77,703.29 L139.04,701.72 L139.32,700.39 L138.88,699.2 L137.85,697.78 L137.18,696.07 L137.75,694.59 L139.42,693.83 L141.22,693.62 L142.42,693.17 L143.14,692.02 L144,690.59 L145.29,689.7 L146.8,689.72 L148.21,690.29 L149.5,690.89 L150.74,691.48 L151.83,692.28 L152.65,693.35 L153.4,694.4 L154.45,695.3 L155.78,696.28 L156.7,697.63Z" fill="#d06f74"/>
<circle cx="140.21" cy="695.37" r="0.6" fill="#d98085"/>
<circle cx="162.24" cy="699.02" r="0.6" fill="#d98085"/>
<circle cx="161.57" cy="703.47" r="0.6" fill="#d98085"/>
<circle cx="139.12" cy="692.32" r="0.6" fill="#d98085"/>
<circle cx="138.3" cy="695.78" r="0.6" fill="#d98085"/>
<circle cx="137.76" cy="693.86" r="0.6" fill="#d98085"/>
<path d="M136.58,720.5 L136.1,722.4 L134.7,724.06 L134.69,725.93 L135.95,728.43 L134.47,729.94 L132.48,730.98 L132.43,733.32 L131.66,735.36 L130.26,736.9 L128.82,738.49 L126.2,738.08 L123.99,737.85 L122.72,740.03 L120.78,740.51 L118.64,739.17 L116.8,739.28 L114.95,739.3 L113.01,739.57 L110.59,740.98 L108.76,739.9 L107.66,737.6 L105.37,737.61 L103.13,737.15 L102.16,735.14 L101.07,733.41 L100.87,731.14 L100.85,729.03 L98.5,728.08 L97.23,726.44 L98.37,724.17 L97.83,722.37 L96.58,720.5 L96.29,718.48 L95.47,716.26 L96.41,714.31 L99,713.13 L99.19,711.09 L99.23,708.76 L101.51,707.95 L103.38,707.08 L104.88,705.98 L106.6,705.23 L107.34,702.8 L108.68,700.89 L111.11,701.75 L112.98,701.27 L114.72,699.36 L116.8,699.28 L118.87,699.49 L120.81,700.34 L122.2,702.7 L124.07,702.95 L126.52,702.32 L127.59,704.35 L128.51,706.23 L130.45,706.85 L131.99,708.04 L134.13,708.92 L136.13,710.17 L135.45,712.77 L135.5,714.83 L137.6,716.36 L137.64,718.45Z" fill="#f5a0a5" stroke="#d27478" stroke-width="0.8"/>
<path d="M123.3,719.5 L122.41,720.7 L122.25,721.92 L122.44,723.39 L122.24,724.9 L121.39,726.09 L120.18,726.9 L118.91,727.56 L117.6,728.1 L116.18,728.23 L114.8,727.82 L113.57,727.28 L112.31,727.17 L110.72,727.52 L108.93,727.57 L107.64,726.66 L107.36,724.9 L107.76,723.09 L107.84,721.76 L106.99,720.74 L105.7,719.5 L105.02,717.95 L105.51,716.48 L106.76,715.4 L108,714.56 L108.94,713.64 L109.83,712.66 L110.92,711.88 L112.16,711.37 L113.43,710.85 L114.8,710.22 L116.32,709.89 L117.75,710.44 L118.71,711.83 L119.28,713.33 L120.09,714.21 L121.6,714.56 L123.44,715.1 L124.58,716.32 L124.37,717.98Z" fill="#d06f74"/>
<circle cx="102.05" cy="724.45" r="0.6" fill="#d98085"/>
<circle cx="108.46" cy="728.25" r="0.6" fill="#d98085"/>
<circle cx="110.29" cy="712.72" r="0.6" fill="#d98085"/>
<circle cx="130.56" cy="723.9" r="0.6" fill="#d98085"/>
<circle cx="105.69" cy="727.72" r="0.6" fill="#d98085"/>
<circle cx="115.04" cy="733.31" r="0.6" fill="#d98085"/>
<path d="M142.87,690.5 L141.62,692.47 L139.11,693.98 L139.55,695.94 L140.07,698.15 L138.91,699.75 L138.24,701.62 L136.89,703.05 L135.34,704.24 L135.24,707.12 L133.95,708.98 L131.08,708.24 L129.11,708.62 L127.41,709.66 L125.42,709.72 L123.57,710.48 L121.6,710.03 L119.86,708.17 L117.89,709.14 L115.48,710.67 L113.73,709.5 L112.02,708.43 L110.17,707.6 L108.84,706.05 L106.59,705.51 L104.85,704.25 L105.65,701.16 L105.41,699.15 L103.5,698 L102.93,696.16 L102.37,694.32 L101.93,692.44 L102.87,690.5 L101.81,688.55 L99.88,686.18 L101.27,684.33 L103.11,682.84 L103.64,680.9 L104.98,679.39 L105.97,677.68 L107.06,675.96 L109.87,676.2 L111.72,675.72 L112.23,672.96 L113.8,671.66 L115.8,671.39 L117.62,670.49 L119.65,670.67 L121.6,670.03 L123.78,668.36 L125.7,669.91 L127.09,672.39 L129.04,672.54 L130.87,673.15 L132.4,674.34 L134.22,675.13 L134.87,677.23 L135.77,678.87 L138.9,678.94 L140.69,680.3 L140.45,682.69 L141.21,684.55 L141.6,686.52 L141.73,688.52Z" fill="#f5a0a5" stroke="#d27478" stroke-width="0.8"/>
<path d="M134.34,692.4 L133.11,693.76 L131.7,694.74 L131.07,695.75 L131.21,697.27 L131.24,699.14 L130.43,700.56 L128.87,700.98 L127.19,700.68 L125.77,700.42 L124.5,700.57 L123.17,700.81 L121.8,700.7 L120.51,700.23 L119.22,699.66 L117.88,699.02 L116.75,698.03 L116.32,696.57 L116.65,694.95 L117.06,693.58 L116.74,692.4 L115.73,691.01 L114.96,689.3 L115.39,687.76 L116.97,686.93 L118.8,686.7 L120.08,686.32 L120.88,685.29 L121.75,683.94 L123.02,683.04 L124.5,682.97 L125.92,683.42 L127.24,683.96 L128.5,684.55 L129.57,685.42 L130.33,686.57 L130.99,687.68 L132.01,688.58 L133.39,689.51 L134.44,690.83Z" fill="#d06f74"/>
<circle cx="110" cy="690.7" r="0.6" fill="#d98085"/>
<circle cx="122.14" cy="703.5" r="0.6" fill="#d98085"/>
<circle cx="131.83" cy="689.07" r="0.6" fill="#d98085"/>
<circle cx="110.21" cy="680.22" r="0.6" fill="#d98085"/>
<circle cx="130.85" cy="684.88" r="0.6" fill="#d98085"/>
<circle cx="134.84" cy="698.94" r="0.6" fill="#d98085"/>
<path d="M56,403 C24,470 16,612 62.11,628.47" fill="none" stroke="url(#g8)" stroke-width="2.2" stroke-linecap="round"/>
<path d="M72,632 L56.46,633.88 L61.45,628.23 L61.17,620.7Z" fill="#2c3e6e"/>
<path d="M188.5,620 C182,625 175,632 172.81,634.57" fill="none" stroke="#2c3e6e" stroke-width="2.4" stroke-linecap="round"/>
<path d="M166.5,642 L169.97,627.89 L173.24,634.08 L179.87,636.3Z" fill="#2c3e6e"/>
<path d="M424,706 C370,735 260,745 203.1,712.24" fill="none" stroke="url(#g9)" stroke-width="2.6" stroke-linecap="round"/>
<path d="M194,707 L209.87,707.49 L203.71,712.59 L202.39,720.49Z" fill="#2c3e6e"/>
<text x="546" y="37" font-size="17.5" fill="#1e1e1e" font-weight="normal" text-anchor="start" textLength="109" lengthAdjust="spacingAndGlyphs" stroke="#1e1e1e" stroke-width="0.3" >granzyme B,</text>
<text x="546" y="62.5" font-size="17.5" fill="#1e1e1e" font-weight="normal" text-anchor="start" textLength="154" lengthAdjust="spacingAndGlyphs" stroke="#1e1e1e" stroke-width="0.3" >perforin, CD107a,</text>
<text x="546" y="89" font-size="17.5" fill="#1e1e1e" font-weight="normal" text-anchor="start" textLength="110" lengthAdjust="spacingAndGlyphs" stroke="#1e1e1e" stroke-width="0.3" >IFN-γ, TNF-α</text>
<circle cx="637.5" cy="111.7" r="4.1" fill="url(#rg7)"/>
<circle cx="617" cy="118" r="4.1" fill="url(#rg8)"/>
<circle cx="653.5" cy="117" r="4.1" fill="url(#rg9)"/>
<circle cx="595.5" cy="133.6" r="4.1" fill="url(#rg9)"/>
<circle cx="627" cy="134.6" r="4.1" fill="url(#rg7)"/>
<circle cx="645.8" cy="137.5" r="4.1" fill="url(#rg8)"/>
<circle cx="667.7" cy="135.4" r="4.1" fill="url(#rg9)"/>
<circle cx="578" cy="147.8" r="4.1" fill="url(#rg7)"/>
<circle cx="609.6" cy="154" r="4.1" fill="url(#rg8)"/>
<circle cx="630" cy="151.7" r="4.1" fill="url(#rg8)"/>
<circle cx="573" cy="169.5" r="4.1" fill="url(#rg8)"/>
<circle cx="589.8" cy="167" r="4.1" fill="url(#rg9)"/>
<circle cx="611" cy="169.5" r="4.1" fill="url(#rg9)"/>
<circle cx="584.4" cy="186.5" r="4.1" fill="url(#rg7)"/>
<circle cx="607.8" cy="190.4" r="4.1" fill="url(#rg7)"/>
<circle cx="687.5" cy="73.5" r="4.2" fill="url(#rg10)"/>
<circle cx="709.5" cy="70.4" r="4.2" fill="url(#rg11)"/>
<circle cx="736" cy="68.4" r="4.2" fill="url(#rg10)"/>
<circle cx="756.7" cy="73.5" r="4.2" fill="url(#rg10)"/>
<circle cx="787" cy="76.6" r="4.2" fill="url(#rg10)"/>
<circle cx="671.5" cy="89" r="4.2" fill="url(#rg11)"/>
<circle cx="687" cy="96" r="4.2" fill="url(#rg12)"/>
<circle cx="711" cy="95.4" r="4.2" fill="url(#rg10)"/>
<circle cx="736" cy="87.7" r="4.2" fill="url(#rg10)"/>
<circle cx="767.5" cy="86.4" r="4.2" fill="url(#rg11)"/>
<circle cx="671.5" cy="110" r="4.2" fill="url(#rg10)"/>
<circle cx="704.3" cy="108.8" r="4.2" fill="url(#rg11)"/>
<circle cx="730" cy="104" r="4.2" fill="url(#rg13)"/>
<circle cx="750.7" cy="100" r="4.2" fill="url(#rg13)"/>
<circle cx="691" cy="125" r="4.2" fill="url(#rg10)"/>
<circle cx="800" cy="81" r="4.2" fill="url(#rg11)"/>
<path d="M989.1,57.7 C989.57,55.68 991.85,53.53 994.1,52.7 C996.35,51.87 999.77,52.35 1002.6,52.7 C1005.43,53.05 1008.73,55.4 1011.1,54.8 C1013.47,54.2 1014.9,50.4 1016.8,49.1 C1018.7,47.8 1019.65,46.87 1022.5,47 C1025.35,47.13 1030.58,48.48 1033.9,49.9 C1037.22,51.32 1040.28,53.5 1042.4,55.5 C1044.52,57.5 1044.7,60.72 1046.6,61.9 C1048.5,63.08 1050.95,62.35 1053.8,62.6 C1056.65,62.85 1060.98,62.08 1063.7,63.4 C1066.42,64.72 1069.15,68.13 1070.1,70.5 C1071.05,72.87 1070.7,75.72 1069.4,77.6 C1068.1,79.48 1065.38,81.1 1062.3,81.8 C1059.22,82.5 1054.22,81.57 1050.9,81.8 C1047.58,82.03 1044.05,81.78 1042.4,83.2 C1040.75,84.62 1040.53,87.93 1041,90.3 C1041.47,92.67 1043.32,95.03 1045.2,97.4 C1047.08,99.77 1051.35,102.13 1052.3,104.5 C1053.25,106.87 1052.32,109.82 1050.9,111.6 C1049.48,113.38 1046.4,114.72 1043.8,115.2 C1041.2,115.68 1037.43,115.33 1035.3,114.5 C1033.17,113.67 1032.67,111.98 1031,110.2 C1029.33,108.42 1027.67,104.75 1025.3,103.8 C1022.93,102.85 1019.87,104.62 1016.8,104.5 C1013.73,104.38 1009.27,104.52 1006.9,103.1 C1004.53,101.68 1002.6,98.13 1002.6,96 C1002.6,93.87 1006.9,92.07 1006.9,90.3 C1006.9,88.53 1004.27,86.1 1002.6,85.4 C1000.93,84.7 998.08,86.82 996.9,86.1 C995.72,85.38 994.78,83 995.5,81.1 C996.22,79.2 1000.72,76.95 1001.2,74.7 C1001.68,72.45 1000.05,69.25 998.4,67.6 C996.75,65.95 992.85,66.45 991.3,64.8 C989.75,63.15 988.63,59.72 989.1,57.7Z" fill="#f8d6c2" stroke="#c9a08a" stroke-width="0.9"/>
<path d="M1012,63 C1018,58 1026,60 1030,66 C1034,72 1040,75 1037,80 C1033,84 1026,80 1022,84 C1016,88 1011,82 1011,75 C1010,70 1009,66 1012,63Z" fill="#e2b8a4"/>
<ellipse cx="1028.2" cy="91.8" rx="6.5" ry="4.5" fill="#e2b8a4"/>
<ellipse cx="1034.6" cy="66.9" rx="4" ry="3.5" fill="#e2b8a4"/>
<ellipse cx="982" cy="47" rx="3.5" ry="5.4" transform="rotate(0 982 47)" fill="#f8d6c2" stroke="#c9a08a" stroke-width="0.9"/>
<ellipse cx="1009" cy="47" rx="6.4" ry="5" transform="rotate(0 1009 47)" fill="#f8d6c2" stroke="#c9a08a" stroke-width="0.9"/>
<ellipse cx="1033.9" cy="41.3" rx="6.8" ry="4.3" transform="rotate(20 1033.9 41.3)" fill="#f8d6c2" stroke="#c9a08a" stroke-width="0.9"/>
<ellipse cx="1055.9" cy="50.6" rx="10.6" ry="6.4" transform="rotate(30 1055.9 50.6)" fill="#f8d6c2" stroke="#c9a08a" stroke-width="0.9"/>
<ellipse cx="984" cy="58.8" rx="2" ry="2" transform="rotate(0 984 58.8)" fill="#f8d6c2" stroke="#c9a08a" stroke-width="0.9"/>
<ellipse cx="1048.8" cy="58" rx="2.2" ry="3" transform="rotate(0 1048.8 58)" fill="#f8d6c2" stroke="#c9a08a" stroke-width="0.9"/>
<ellipse cx="987.7" cy="73.3" rx="4.7" ry="4.7" transform="rotate(0 987.7 73.3)" fill="#f8d6c2" stroke="#c9a08a" stroke-width="0.9"/>
<ellipse cx="989" cy="93.9" rx="8.5" ry="8.2" transform="rotate(0 989 93.9)" fill="#f8d6c2" stroke="#c9a08a" stroke-width="0.9"/>
<ellipse cx="1059.4" cy="91" rx="12" ry="7" transform="rotate(-5 1059.4 91)" fill="#f8d6c2" stroke="#c9a08a" stroke-width="0.9"/>
<ellipse cx="1060" cy="107.4" rx="3" ry="5" transform="rotate(-10 1060 107.4)" fill="#f8d6c2" stroke="#c9a08a" stroke-width="0.9"/>
<ellipse cx="1008" cy="116" rx="13.5" ry="8.2" transform="rotate(5 1008 116)" fill="#f8d6c2" stroke="#c9a08a" stroke-width="0.9"/>
<ellipse cx="1033.9" cy="122.3" rx="8.5" ry="5.4" transform="rotate(0 1033.9 122.3)" fill="#f8d6c2" stroke="#c9a08a" stroke-width="0.9"/>
<path d="M857.28,73.66 L857.7,73.63 L858.03,74.36 L858.37,75.51 L858.86,76.76 L859.6,77.78 L860.74,78.29 L862.44,78.57 L864.74,79.31 L867.56,80.84 L870.59,82.66 L873.47,83.63 L876.06,83.26 L878.63,82.17 L881.39,81.16 L884.27,80.37 L887.2,79.5 L890.14,78.96 L893.01,79.54 L895.91,81.06 L899.04,81.84 L902.47,80.84 L905.86,79.72 L908.6,80.04 L910.47,81.22 L911.5,82.26 L911.88,83.02 L911.89,83.65 L911.82,84.29 L911.92,85.09 L912.49,86.15 L913.56,87.33 L914.97,88.41 L916.66,89.37 L918.49,90.37 L920.36,91.45 L922.32,92.37 L924.52,92.92 L926.99,93.3 L929.3,94.17 L931.05,96.04 L932.29,98.55 L933.67,100.69 L935.74,101.86 L938.52,102.27 L941.4,102.71 L943.79,103.68 L945.68,105.03 L947.41,106.31 L949.31,107.27 L951.39,107.98 L953.37,108.62 L955.06,109.3 L956.34,110.07 L957.12,110.95 L957.33,111.92 L957.08,112.93 L956.5,113.98 L955.75,115.06 L955,116.15 L954.44,117.21 L953.92,118.19 L953.24,119.12 L952.56,120.06 L952.08,121.06 L952.04,122.13 L952.65,123.35 L953.73,124.96 L954.28,127.39 L953.79,130.63 L953.49,133.83 L954.64,136.39 L956.5,138.6 L958.13,140.89 L959.74,143.28 L961.59,145.65 L963.1,148.1 L963.46,150.71 L962.97,153.33 L962.83,155.83 L963.92,158.24 L965.71,160.69 L966.87,163.2 L966.74,165.66 L965.85,167.94 L964.89,170.06 L964.15,172.1 L963.65,174.09 L963.26,176.06 L963.05,178.01 L963.37,180.02 L964.65,182.27 L966.79,184.76 L969.21,187.29 L971.31,189.63 L972.66,191.6 L973,193.05 L972.33,193.87 L971.02,194.2 L969.3,194.24 L967.32,194.18 L965.24,194.22 L963.26,194.54 L961.47,195.17 L959.94,196.05 L958.85,197.27 L958.24,198.87 L957.87,200.73 L957.42,202.66 L956.71,204.6 L955.8,206.57 L954.87,208.61 L954.02,210.72 L953.06,212.73 L951.79,214.41 L950.21,215.77 L948.62,217.09 L947.35,218.67 L946.54,220.69 L946,223.01 L945.39,225.28 L944.36,227.12 L942.78,228.31 L940.78,228.95 L938.69,229.34 L936.78,229.84 L935.17,230.64 L933.88,231.64 L932.78,232.67 L931.69,233.66 L930.48,234.63 L929.06,235.61 L927.36,236.72 L925.39,238.19 L923.2,240.05 L920.64,241.58 L917.62,242.02 L914.58,241.84 L912.06,242.19 L910.08,243.35 L908.36,244.94 L906.67,246.42 L904.84,247.38 L902.8,247.66 L900.54,247.34 L898.12,246.75 L895.66,246.31 L893.18,246.12 L890.67,245.91 L888.18,245.59 L885.72,245.48 L883.27,245.97 L880.73,246.9 L878.16,247.57 L875.67,247.24 L873.37,245.88 L871.19,244.25 L868.87,243.38 L866.23,243.68 L863.37,244.6 L860.59,245.26 L858.12,245.23 L856.02,244.63 L854.25,243.7 L852.72,242.61 L851.35,241.35 L850.13,239.87 L849.02,238.12 L847.96,236.12 L846.95,234.06 L845.9,232.21 L844.54,230.81 L842.68,229.95 L840.37,229.33 L838,228.26 L836.12,225.92 L834.67,222.65 L832.62,219.97 L829.7,218.16 L826.87,216.36 L824.4,214.5 L821.95,212.85 L819.61,211.2 L817.99,209.1 L817.32,206.48 L817.05,203.74 L816.26,201.39 L814.42,199.67 L811.9,198.32 L809.51,196.87 L807.87,195.01 L807.11,192.73 L806.9,190.14 L806.78,187.36 L806.62,184.44 L806.74,181.38 L807.03,178.31 L806.68,175.45 L805.53,172.86 L804.63,170.4 L804.92,167.93 L806.42,165.48 L808.43,163.08 L809.84,160.69 L809.87,158.17 L808.81,155.45 L807.78,152.62 L807.24,149.76 L806.87,146.84 L806.54,143.85 L806.85,140.88 L808.16,138.05 L809.45,135.12 L809.22,131.57 L807.97,127.51 L807.62,123.78 L808.72,120.89 L810.26,118.32 L811.25,115.43 L811.55,112.21 L811.72,109.11 L812.05,106.48 L812.51,104.44 L812.95,103.13 L813.37,102.49 L813.87,102.26 L814.54,102.21 L815.43,102.04 L816.58,101.45 L818.11,100.45 L820.18,99.43 L822.98,98.73 L826.51,98.63 L830.15,98.75 L833.03,98.32 L834.94,96.95 L836.32,94.83 L837.7,92.65 L839.48,90.98 L841.58,89.89 L843.72,89.04 L845.76,88.14 L847.7,87.13 L849.57,86.15 L851.37,85.29 L852.99,84.43 L854.3,83.37 L855.23,81.88 L855.82,79.97 L856.21,77.93 L856.52,76.04 L856.84,74.54Z" fill="#f5a1a5" stroke="#cc6266" stroke-width="1.8"/>
<path d="M868.56,143.46 L871.1,141.27 L874.87,139.78 L879.58,139.38 L884.31,139.54 L888.28,139.17 L891.73,138.32 L895.22,137.77 L898.73,138.12 L902.06,139.27 L905.17,140.45 L908.24,140.95 L911.46,140.86 L914.7,140.82 L917.74,141.4 L920.35,142.9 L922.53,145.29 L924.54,148.06 L926.75,150.66 L929.22,153.02 L931.48,155.42 L933.04,158.14 L933.78,161.25 L933.88,164.47 L933.82,167.57 L934,170.49 L934.2,173.39 L934.05,176.42 L933.26,179.49 L931.9,182.39 L930.68,185 L930.42,187.49 L930.99,189.99 L931.87,192.53 L932.54,195.06 L932.55,197.56 L931.76,200.01 L930.26,202.24 L928.02,204.09 L925.19,205.51 L922.09,206.66 L918.73,208.07 L915.1,210.12 L911.05,211.98 L906.69,212.45 L902.75,211.75 L899.51,210.6 L896.58,209.38 L893.73,208.26 L890.8,207.01 L887.91,205.28 L885.13,203.27 L882.27,201.72 L879.02,200.97 L875.66,200.35 L872.84,199.14 L870.9,197.17 L869.7,194.75 L868.86,192.17 L867.93,189.68 L866.56,187.32 L864.83,184.85 L863.32,182.03 L862.63,178.92 L862.73,175.8 L863.06,172.84 L863.24,169.97 L863.17,166.98 L863.12,163.85 L863.49,160.74 L864.39,157.84 L865.33,155.03 L865.98,152.1 L866.47,149.08 L867.17,146.12Z" fill="#d46b70" stroke="#c46066" stroke-width="0.8"/>
<circle cx="851" cy="107" r="1.3" fill="#d86a6e"/>
<circle cx="892" cy="93" r="2" fill="#d86a6e"/>
<circle cx="863" cy="120" r="1.4" fill="#d86a6e"/>
<circle cx="876" cy="132" r="2" fill="#d86a6e"/>
<circle cx="848" cy="140" r="1.4" fill="#d86a6e"/>
<circle cx="910" cy="105" r="1.4" fill="#d86a6e"/>
<circle cx="935" cy="112" r="1.3" fill="#d86a6e"/>
<circle cx="940" cy="130" r="1.8" fill="#d86a6e"/>
<circle cx="851" cy="186" r="1.3" fill="#d86a6e"/>
<circle cx="866" cy="188" r="1.5" fill="#d86a6e"/>
<circle cx="832" cy="177" r="1.3" fill="#d86a6e"/>
<circle cx="831" cy="206" r="1.6" fill="#d86a6e"/>
<circle cx="873" cy="220" r="1.3" fill="#d86a6e"/>
<circle cx="922" cy="213" r="1.5" fill="#d86a6e"/>
<circle cx="944" cy="188" r="1.6" fill="#d86a6e"/>
<circle cx="952" cy="173" r="1.3" fill="#d86a6e"/>
<circle cx="898" cy="231" r="1.6" fill="#d86a6e"/>
<circle cx="858" cy="225" r="1.3" fill="#d86a6e"/>
<circle cx="826" cy="151" r="1.5" fill="#d86a6e"/>
<text x="837" y="166.7" font-size="19.8" fill="#a32222" font-weight="bold" text-anchor="start" textLength="105.4" lengthAdjust="spacingAndGlyphs" >Cancer Cell</text>
<path d="M922.4,89.6 C935,78 950,70 960.16,68.08" fill="none" stroke="url(#g10)" stroke-width="2.4" stroke-linecap="round"/>
<path d="M969,66.4 L958.33,74.53 L959.57,68.19 L956.09,62.74Z" fill="#a87030"/>
<path d="M941.9,490 C945.52,485.6 956.92,473.17 963.6,463.6 C970.28,454.03 976.07,446.53 982,432.6 C987.93,418.67 994.4,397.37 999.2,380 C1004,362.63 1007.33,344.73 1010.8,328.4 C1014.27,312.07 1017.15,300.07 1020,282 C1022.85,263.93 1026.15,235 1027.9,220 C1029.65,205 1030.07,196.67 1030.5,192" fill="none" stroke="url(#g11)" stroke-width="3.7"/>
<path d="M1030.3,172.4 L1037.26,196.23 L1026.85,189.66 L1014.71,191.72Z" fill="#57792c"/>
<path d="M679,734.3 C691.58,732.98 734.33,728.97 754.5,726.4 C774.67,723.83 782.53,723.37 800,718.9 C817.47,714.43 839.55,708.48 859.3,699.6 C879.05,690.72 901.57,675.5 918.5,665.6 C935.43,655.7 949.58,648.68 960.9,640.2 C972.22,631.72 978.27,623.98 986.4,614.7 C994.53,605.42 1002.73,594.95 1009.7,584.5 C1016.67,574.05 1022.78,563.62 1028.2,552 C1033.62,540.38 1038.32,526.8 1042.2,514.8 C1046.08,502.8 1048.47,493 1051.5,480 C1054.53,467 1058.15,451.8 1060.4,436.8 C1062.65,421.8 1063.97,405.47 1065,390 C1066.03,374.53 1066.6,362 1066.6,344 C1066.6,326 1065.77,297.33 1065,282 C1064.23,266.67 1062.5,257 1062,252" fill="none" stroke="url(#g12)" stroke-width="3"/>
<path d="M1061.5,234 L1073.69,251.67 L1063.31,249.09 L1053.83,254.06Z" fill="#8898c2"/>
<circle cx="874" cy="525" r="68.5" fill="#cfe0cc" stroke="#7ea47a" stroke-width="1.8"/>
<circle cx="880" cy="532" r="42" fill="#8fbe98" stroke="#6e9c74" stroke-width="1"/>
<text x="836.9" y="531" font-size="21" fill="#386636" font-weight="bold" text-anchor="start" textLength="80" lengthAdjust="spacingAndGlyphs" >αβT Cell</text>
<circle cx="1008.6" cy="230" r="4.5" fill="url(#rg14)"/>
<circle cx="1037.5" cy="262.5" r="3.7" fill="url(#rg15)"/>
<circle cx="1004" cy="268.3" r="3.8" fill="url(#rg15)"/>
<circle cx="1011.5" cy="282" r="3.5" fill="url(#rg14)"/>
<circle cx="984.6" cy="315.8" r="5" fill="url(#rg14)"/>
<circle cx="1036.7" cy="315.8" r="5" fill="url(#rg16)"/>
<circle cx="977" cy="351" r="5.4" fill="url(#rg16)"/>
<circle cx="1035" cy="357" r="3.8" fill="url(#rg15)"/>
<circle cx="1012.7" cy="376" r="4.2" fill="url(#rg14)"/>
<circle cx="962.3" cy="389.8" r="4.6" fill="url(#rg14)"/>
<circle cx="1021.8" cy="407" r="4.5" fill="url(#rg15)"/>
<circle cx="971.4" cy="417.4" r="3.8" fill="url(#rg15)"/>
<circle cx="949.5" cy="428.6" r="5.4" fill="url(#rg16)"/>
<circle cx="1034" cy="445" r="3.8" fill="url(#rg15)"/>
<circle cx="944.5" cy="465" r="3.8" fill="url(#rg15)"/>
<circle cx="979" cy="464.5" r="4.2" fill="url(#rg14)"/>
<circle cx="963" cy="490.5" r="5" fill="url(#rg16)"/>
<circle cx="1024.6" cy="491.7" r="4.2" fill="url(#rg14)"/>
<circle cx="1024.6" cy="525" r="3.8" fill="url(#rg15)"/>
<circle cx="935" cy="505.5" r="3.5" fill="url(#rg15)"/>
<circle cx="998" cy="544.5" r="3.8" fill="url(#rg14)"/>
<circle cx="969.8" cy="580" r="5" fill="url(#rg14)"/>
<circle cx="989" cy="590" r="5.2" fill="url(#rg16)"/>
<circle cx="1023.8" cy="580" r="5.2" fill="url(#rg16)"/>
<circle cx="961.6" cy="616.5" r="5.2" fill="url(#rg16)"/>
<circle cx="1024.6" cy="622.6" r="3.8" fill="url(#rg15)"/>
<circle cx="1003.5" cy="634.8" r="4.2" fill="url(#rg14)"/>
<circle cx="943" cy="639" r="3.8" fill="url(#rg15)"/>
<circle cx="910.4" cy="652.3" r="3.8" fill="url(#rg15)"/>
<circle cx="991.3" cy="659" r="4.2" fill="url(#rg14)"/>
<circle cx="955.5" cy="672.6" r="4.8" fill="url(#rg14)"/>
<circle cx="897" cy="674.6" r="4.6" fill="url(#rg15)"/>
<circle cx="839" cy="695" r="5.3" fill="url(#rg16)"/>
<circle cx="933" cy="697" r="5.2" fill="url(#rg16)"/>
<circle cx="758" cy="719" r="3.8" fill="url(#rg15)"/>
<circle cx="877.5" cy="715" r="3.8" fill="url(#rg15)"/>
<circle cx="824.6" cy="734.8" r="4.6" fill="url(#rg14)"/>
<ellipse cx="632.2" cy="712.9" rx="45" ry="46.3" fill="#d6e6ee" stroke="#5b9dcb" stroke-width="1.5"/>
<circle cx="618.3" cy="677.7" r="2.5" fill="#bcd5e3"/>
<circle cx="631.8" cy="682" r="2.8" fill="#bcd5e3"/>
<circle cx="640.3" cy="676.3" r="2" fill="#bcd5e3"/>
<circle cx="652.1" cy="680.3" r="2" fill="#bcd5e3"/>
<circle cx="604.8" cy="688.1" r="2" fill="#bcd5e3"/>
<circle cx="618.3" cy="689.1" r="2" fill="#bcd5e3"/>
<circle cx="638.9" cy="688.1" r="2" fill="#bcd5e3"/>
<circle cx="657.8" cy="691" r="2.8" fill="#bcd5e3"/>
<circle cx="599.9" cy="700.5" r="2.5" fill="#bcd5e3"/>
<circle cx="613.8" cy="699.5" r="2" fill="#bcd5e3"/>
<circle cx="602" cy="714.6" r="2" fill="#bcd5e3"/>
<circle cx="664" cy="731" r="2" fill="#bcd5e3"/>
<circle cx="659.8" cy="740.6" r="2" fill="#bcd5e3"/>
<circle cx="616.9" cy="749.4" r="2" fill="#bcd5e3"/>
<ellipse cx="635.3" cy="720" rx="28.6" ry="26.2" transform="rotate(-25 635.3 720)" fill="#b9d4e2" stroke="#a3c3d5" stroke-width="1"/>
<text x="616.8" y="726.6" font-size="21.3" fill="#2d5c2a" font-weight="bold" text-anchor="start" textLength="29.5" lengthAdjust="spacingAndGlyphs" >NK</text>
<path d="M743.59,601.75 L743.02,600.52 L742.37,599.24 L741.65,597.87 L740.85,596.37 L739.97,594.74 L739,592.97 L737.96,591.04 L736.83,588.97 L735.63,586.73 L734.34,584.33 L732.97,581.78 L731.52,579.05 L729.99,576.16 L728.41,573.09 A1.8,1.8 0 0 0 725.19,574.71 L725.19,574.71 L726.7,577.8 L728.07,580.74 L729.31,583.54 L730.42,586.18 L731.41,588.67 L732.28,591 L733.02,593.18 L733.64,595.19 L734.14,597.03 L734.51,598.69 L734.75,600.18 L734.87,601.46 L734.87,602.52 L734.73,603.32Z M748.16,602.53 L748.01,601.78 L747.87,600.9 L747.74,599.87 L747.62,598.69 L747.51,597.37 L747.42,595.88 L747.34,594.25 L747.27,592.45 L747.21,590.51 L747.17,588.41 L747.15,586.15 L747.14,583.74 L747.16,581.17 L747.2,578.44 A1.7,1.7 0 0 0 743.8,578.36 L743.8,578.36 L743.7,581.08 L743.58,583.64 L743.44,586.04 L743.29,588.29 L743.12,590.38 L742.94,592.31 L742.75,594.09 L742.55,595.7 L742.34,597.16 L742.13,598.46 L741.9,599.59 L741.67,600.56 L741.43,601.37 L741.18,602Z M728.33,607.2 L727.28,606.82 L726.15,606.45 L724.88,606.04 L723.44,605.54 L721.82,604.97 L720.01,604.31 L718,603.55 L715.8,602.7 L713.41,601.75 L710.81,600.7 L708.01,599.55 L705.02,598.3 L701.82,596.94 L698.44,595.46 A1.8,1.8 0 0 0 696.96,598.74 L696.96,598.74 L700.31,600.29 L703.42,601.79 L706.31,603.24 L708.98,604.63 L711.42,605.94 L713.64,607.2 L715.64,608.38 L717.4,609.49 L718.94,610.53 L720.25,611.5 L721.31,612.37 L722.12,613.16 L722.65,613.83 L722.83,614.33Z M728.6,607.3 L728.47,607.38 L728.2,607.31 L727.84,607.13 L727.4,606.86 L726.89,606.49 L726.3,606.04 L725.64,605.49 L724.91,604.86 L724.1,604.13 L723.23,603.32 L722.28,602.41 L721.27,601.41 L720.18,600.32 L719.04,599.13 A1.7,1.7 0 0 0 716.56,601.47 L716.56,601.47 L717.68,602.68 L718.71,603.83 L719.65,604.9 L720.5,605.89 L721.27,606.82 L721.96,607.66 L722.56,608.43 L723.08,609.12 L723.51,609.73 L723.87,610.27 L724.14,610.74 L724.34,611.13 L724.48,611.46 L724.6,611.77Z M721.75,616.94 L721.02,617.17 L720.14,617.38 L719.07,617.57 L717.78,617.73 L716.28,617.88 L714.55,618 L712.6,618.09 L710.43,618.16 L708.04,618.2 L705.42,618.21 L702.57,618.19 L699.5,618.14 L696.21,618.04 L692.69,617.9 A1.8,1.8 0 0 0 692.51,621.5 L692.51,621.5 L696.02,621.72 L699.3,621.97 L702.36,622.24 L705.18,622.53 L707.78,622.83 L710.15,623.14 L712.28,623.46 L714.19,623.79 L715.87,624.13 L717.31,624.47 L718.52,624.82 L719.49,625.17 L720.2,625.52 L720.61,625.87Z M720.93,626.67 L720.8,626.85 L720.58,627.04 L720.28,627.23 L719.91,627.41 L719.48,627.6 L718.99,627.78 L718.44,627.96 L717.83,628.13 L717.17,628.3 L716.45,628.46 L715.68,628.61 L714.85,628.76 L713.96,628.89 L713.03,629.01 A1.7,1.7 0 0 0 713.37,632.39 L713.37,632.39 L714.33,632.31 L715.23,632.25 L716.08,632.21 L716.88,632.19 L717.64,632.17 L718.34,632.17 L719,632.18 L719.6,632.2 L720.17,632.23 L720.68,632.27 L721.16,632.32 L721.6,632.37 L722.01,632.43 L722.4,632.49Z M737.99,646.09 L731.05,641.13 L730.89,641.66 L730.6,642.31 L730.13,643.12 L729.47,644.09 L728.61,645.23 L727.56,646.55 L726.3,648.03 L724.85,649.68 L723.2,651.5 L721.35,653.48 L719.29,655.63 L717.02,657.94 L714.55,660.41 A1.8,1.8 0 0 0 717.05,662.99 L717.05,662.99 L719.59,660.58 L721.96,658.39 L724.17,656.39 L726.21,654.6 L728.08,653.01 L729.77,651.62 L731.29,650.42 L732.64,649.42 L733.8,648.61 L734.79,648 L735.6,647.59 L736.21,647.39 L736.58,647.45 L729.8,642.37Z M742.06,646.46 L742.32,646.94 L742.55,647.47 L742.77,648.05 L742.98,648.68 L743.16,649.35 L743.32,650.06 L743.47,650.8 L743.59,651.59 L743.69,652.42 L743.77,653.28 L743.82,654.18 L743.85,655.11 L743.84,656.08 L743.8,657.08 A1.7,1.7 0 0 0 747.2,657.32 L747.2,657.32 L747.29,656.29 L747.4,655.31 L747.52,654.35 L747.65,653.42 L747.78,652.53 L747.92,651.66 L748.05,650.82 L748.19,650.01 L748.33,649.23 L748.47,648.47 L748.61,647.73 L748.75,647.02 L748.89,646.33 L749.02,645.65Z M747.24,646.25 L748.07,647.16 L748.79,647.65 L749.56,648.16 L750.42,648.76 L751.4,649.5 L752.52,650.38 L753.76,651.4 L755.14,652.58 L756.65,653.91 L758.3,655.39 L760.09,657.04 L762,658.85 L764.05,660.82 L766.22,662.96 A1.8,1.8 0 0 0 768.78,660.44 L768.78,660.44 L766.67,658.24 L764.75,656.16 L763,654.21 L761.41,652.39 L760,650.7 L758.76,649.14 L757.69,647.72 L756.78,646.44 L756.05,645.3 L755.49,644.31 L755.12,643.48 L754.95,642.84 L755.04,642.47 L755.55,642.82Z M764.22,630.75 L764.45,630.64 L764.76,630.55 L765.13,630.48 L765.58,630.43 L766.09,630.4 L766.67,630.39 L767.31,630.39 L768.03,630.42 L768.81,630.47 L769.65,630.54 L770.57,630.64 L771.55,630.76 L772.6,630.9 L773.71,631.07 A1.7,1.7 0 0 0 774.29,627.73 L774.29,627.73 L773.19,627.51 L772.15,627.29 L771.19,627.07 L770.3,626.85 L769.48,626.63 L768.72,626.41 L768.04,626.2 L767.43,625.99 L766.88,625.78 L766.41,625.58 L766,625.39 L765.67,625.19 L765.4,625.01 L765.19,624.83Z M765.46,624.13 L765.46,623.83 L765.97,623.52 L766.83,623.26 L767.97,623.06 L769.35,622.93 L770.97,622.86 L772.82,622.85 L774.88,622.91 L777.16,623.04 L779.65,623.24 L782.35,623.51 L785.26,623.85 L788.38,624.27 L791.7,624.78 A1.8,1.8 0 0 0 792.3,621.22 L792.3,621.22 L788.97,620.64 L785.86,620.06 L782.96,619.5 L780.28,618.96 L777.8,618.45 L775.52,617.96 L773.45,617.51 L771.58,617.08 L769.91,616.69 L768.42,616.33 L767.1,615.99 L765.92,615.7 L764.81,615.46 L763.62,615.31Z M763.84,615.84 L763.81,615.51 L764.23,614.95 L764.96,614.24 L765.99,613.41 L767.29,612.46 L768.88,611.38 L770.74,610.19 L772.88,608.88 L775.29,607.46 L777.97,605.93 L780.94,604.28 L784.18,602.52 L787.7,600.66 L791.51,598.71 A1.8,1.8 0 0 0 789.89,595.49 L789.89,595.49 L786.05,597.38 L782.45,599.09 L779.11,600.66 L776.02,602.07 L773.19,603.32 L770.61,604.44 L768.29,605.4 L766.23,606.22 L764.42,606.89 L762.86,607.42 L761.56,607.82 L760.5,608.08 L759.65,608.22 L758.88,608.33Z" fill="#d6ece9" stroke="#6cbdb4" stroke-width="2.2" stroke-linejoin="round"/>
<circle cx="743" cy="624.2" r="25.5" fill="#d6ece9" stroke="#6cbdb4" stroke-width="1.1"/>
<path d="M743.59,601.75 L743.02,600.52 L742.37,599.24 L741.65,597.87 L740.85,596.37 L739.97,594.74 L739,592.97 L737.96,591.04 L736.83,588.97 L735.63,586.73 L734.34,584.33 L732.97,581.78 L731.52,579.05 L729.99,576.16 L728.41,573.09 A1.8,1.8 0 0 0 725.19,574.71 L725.19,574.71 L726.7,577.8 L728.07,580.74 L729.31,583.54 L730.42,586.18 L731.41,588.67 L732.28,591 L733.02,593.18 L733.64,595.19 L734.14,597.03 L734.51,598.69 L734.75,600.18 L734.87,601.46 L734.87,602.52 L734.73,603.32Z M748.16,602.53 L748.01,601.78 L747.87,600.9 L747.74,599.87 L747.62,598.69 L747.51,597.37 L747.42,595.88 L747.34,594.25 L747.27,592.45 L747.21,590.51 L747.17,588.41 L747.15,586.15 L747.14,583.74 L747.16,581.17 L747.2,578.44 A1.7,1.7 0 0 0 743.8,578.36 L743.8,578.36 L743.7,581.08 L743.58,583.64 L743.44,586.04 L743.29,588.29 L743.12,590.38 L742.94,592.31 L742.75,594.09 L742.55,595.7 L742.34,597.16 L742.13,598.46 L741.9,599.59 L741.67,600.56 L741.43,601.37 L741.18,602Z M728.33,607.2 L727.28,606.82 L726.15,606.45 L724.88,606.04 L723.44,605.54 L721.82,604.97 L720.01,604.31 L718,603.55 L715.8,602.7 L713.41,601.75 L710.81,600.7 L708.01,599.55 L705.02,598.3 L701.82,596.94 L698.44,595.46 A1.8,1.8 0 0 0 696.96,598.74 L696.96,598.74 L700.31,600.29 L703.42,601.79 L706.31,603.24 L708.98,604.63 L711.42,605.94 L713.64,607.2 L715.64,608.38 L717.4,609.49 L718.94,610.53 L720.25,611.5 L721.31,612.37 L722.12,613.16 L722.65,613.83 L722.83,614.33Z M728.6,607.3 L728.47,607.38 L728.2,607.31 L727.84,607.13 L727.4,606.86 L726.89,606.49 L726.3,606.04 L725.64,605.49 L724.91,604.86 L724.1,604.13 L723.23,603.32 L722.28,602.41 L721.27,601.41 L720.18,600.32 L719.04,599.13 A1.7,1.7 0 0 0 716.56,601.47 L716.56,601.47 L717.68,602.68 L718.71,603.83 L719.65,604.9 L720.5,605.89 L721.27,606.82 L721.96,607.66 L722.56,608.43 L723.08,609.12 L723.51,609.73 L723.87,610.27 L724.14,610.74 L724.34,611.13 L724.48,611.46 L724.6,611.77Z M721.75,616.94 L721.02,617.17 L720.14,617.38 L719.07,617.57 L717.78,617.73 L716.28,617.88 L714.55,618 L712.6,618.09 L710.43,618.16 L708.04,618.2 L705.42,618.21 L702.57,618.19 L699.5,618.14 L696.21,618.04 L692.69,617.9 A1.8,1.8 0 0 0 692.51,621.5 L692.51,621.5 L696.02,621.72 L699.3,621.97 L702.36,622.24 L705.18,622.53 L707.78,622.83 L710.15,623.14 L712.28,623.46 L714.19,623.79 L715.87,624.13 L717.31,624.47 L718.52,624.82 L719.49,625.17 L720.2,625.52 L720.61,625.87Z M720.93,626.67 L720.8,626.85 L720.58,627.04 L720.28,627.23 L719.91,627.41 L719.48,627.6 L718.99,627.78 L718.44,627.96 L717.83,628.13 L717.17,628.3 L716.45,628.46 L715.68,628.61 L714.85,628.76 L713.96,628.89 L713.03,629.01 A1.7,1.7 0 0 0 713.37,632.39 L713.37,632.39 L714.33,632.31 L715.23,632.25 L716.08,632.21 L716.88,632.19 L717.64,632.17 L718.34,632.17 L719,632.18 L719.6,632.2 L720.17,632.23 L720.68,632.27 L721.16,632.32 L721.6,632.37 L722.01,632.43 L722.4,632.49Z M737.99,646.09 L731.05,641.13 L730.89,641.66 L730.6,642.31 L730.13,643.12 L729.47,644.09 L728.61,645.23 L727.56,646.55 L726.3,648.03 L724.85,649.68 L723.2,651.5 L721.35,653.48 L719.29,655.63 L717.02,657.94 L714.55,660.41 A1.8,1.8 0 0 0 717.05,662.99 L717.05,662.99 L719.59,660.58 L721.96,658.39 L724.17,656.39 L726.21,654.6 L728.08,653.01 L729.77,651.62 L731.29,650.42 L732.64,649.42 L733.8,648.61 L734.79,648 L735.6,647.59 L736.21,647.39 L736.58,647.45 L729.8,642.37Z M742.06,646.46 L742.32,646.94 L742.55,647.47 L742.77,648.05 L742.98,648.68 L743.16,649.35 L743.32,650.06 L743.47,650.8 L743.59,651.59 L743.69,652.42 L743.77,653.28 L743.82,654.18 L743.85,655.11 L743.84,656.08 L743.8,657.08 A1.7,1.7 0 0 0 747.2,657.32 L747.2,657.32 L747.29,656.29 L747.4,655.31 L747.52,654.35 L747.65,653.42 L747.78,652.53 L747.92,651.66 L748.05,650.82 L748.19,650.01 L748.33,649.23 L748.47,648.47 L748.61,647.73 L748.75,647.02 L748.89,646.33 L749.02,645.65Z M747.24,646.25 L748.07,647.16 L748.79,647.65 L749.56,648.16 L750.42,648.76 L751.4,649.5 L752.52,650.38 L753.76,651.4 L755.14,652.58 L756.65,653.91 L758.3,655.39 L760.09,657.04 L762,658.85 L764.05,660.82 L766.22,662.96 A1.8,1.8 0 0 0 768.78,660.44 L768.78,660.44 L766.67,658.24 L764.75,656.16 L763,654.21 L761.41,652.39 L760,650.7 L758.76,649.14 L757.69,647.72 L756.78,646.44 L756.05,645.3 L755.49,644.31 L755.12,643.48 L754.95,642.84 L755.04,642.47 L755.55,642.82Z M764.22,630.75 L764.45,630.64 L764.76,630.55 L765.13,630.48 L765.58,630.43 L766.09,630.4 L766.67,630.39 L767.31,630.39 L768.03,630.42 L768.81,630.47 L769.65,630.54 L770.57,630.64 L771.55,630.76 L772.6,630.9 L773.71,631.07 A1.7,1.7 0 0 0 774.29,627.73 L774.29,627.73 L773.19,627.51 L772.15,627.29 L771.19,627.07 L770.3,626.85 L769.48,626.63 L768.72,626.41 L768.04,626.2 L767.43,625.99 L766.88,625.78 L766.41,625.58 L766,625.39 L765.67,625.19 L765.4,625.01 L765.19,624.83Z M765.46,624.13 L765.46,623.83 L765.97,623.52 L766.83,623.26 L767.97,623.06 L769.35,622.93 L770.97,622.86 L772.82,622.85 L774.88,622.91 L777.16,623.04 L779.65,623.24 L782.35,623.51 L785.26,623.85 L788.38,624.27 L791.7,624.78 A1.8,1.8 0 0 0 792.3,621.22 L792.3,621.22 L788.97,620.64 L785.86,620.06 L782.96,619.5 L780.28,618.96 L777.8,618.45 L775.52,617.96 L773.45,617.51 L771.58,617.08 L769.91,616.69 L768.42,616.33 L767.1,615.99 L765.92,615.7 L764.81,615.46 L763.62,615.31Z M763.84,615.84 L763.81,615.51 L764.23,614.95 L764.96,614.24 L765.99,613.41 L767.29,612.46 L768.88,611.38 L770.74,610.19 L772.88,608.88 L775.29,607.46 L777.97,605.93 L780.94,604.28 L784.18,602.52 L787.7,600.66 L791.51,598.71 A1.8,1.8 0 0 0 789.89,595.49 L789.89,595.49 L786.05,597.38 L782.45,599.09 L779.11,600.66 L776.02,602.07 L773.19,603.32 L770.61,604.44 L768.29,605.4 L766.23,606.22 L764.42,606.89 L762.86,607.42 L761.56,607.82 L760.5,608.08 L759.65,608.22 L758.88,608.33Z" fill="#d6ece9"/>
<circle cx="743" cy="624.2" r="24.9" fill="#d6ece9"/>
<ellipse cx="742" cy="624.5" rx="15" ry="13" fill="#b4dbd6"/>
<text x="730.2" y="634.6" font-size="20.4" fill="#2c5e2c" font-weight="bold" text-anchor="start" textLength="29" lengthAdjust="spacingAndGlyphs" >DC</text>
<rect x="707" y="642.8" width="9" height="3.4" rx="1.7" transform="rotate(-30 711.5 644.5)" fill="#3a9a3e" stroke="none" stroke-width="0.8"/>
<rect x="710" y="646.8" width="9" height="3.4" rx="1.7" transform="rotate(-30 714.5 648.5)" fill="#5cc060" stroke="none" stroke-width="0.8"/>
<path d="M709,649 q-2,1 -3,3.5 q-1,2.5 -3.5,1 q-2,-1.5 -3.5,1.5 q-1,2 -3,1" stroke="#b03538" stroke-width="1.5" fill="none"/>
<rect x="765" y="644.8" width="9" height="3.4" rx="1.7" transform="rotate(40 769.5 646.5)" fill="#3a9a3e" stroke="none" stroke-width="0.8"/>
<rect x="768" y="648.3" width="9" height="3.4" rx="1.7" transform="rotate(40 772.5 650)" fill="#5cc060" stroke="none" stroke-width="0.8"/>
<path d="M776,653 q1.5,2.5 3.5,2 q2.5,-0.5 2.5,2.5 q0,2.5 2.5,2.5 q2,0 2,2" stroke="#b03538" stroke-width="1.5" fill="none"/>
<rect x="752" y="584.2" width="9" height="3" rx="1.5" transform="rotate(-65 756.5 585.7)" fill="#7a9ad0" stroke="none" stroke-width="0.8"/>
<rect x="755.3" y="585" width="9" height="3" rx="1.5" transform="rotate(-65 759.8 586.5)" fill="#98b4e0" stroke="none" stroke-width="0.8"/>
<path d="M760,579 q-2,-2 0,-3 q2,-2 0,-3 q-2,-2 0,-3" stroke="#b03538" stroke-width="1.3" fill="none"/>
<text x="705.5" y="145.6" font-size="19.5" fill="#1e1e1e" font-weight="normal" text-anchor="start" textLength="52.4" lengthAdjust="spacingAndGlyphs" stroke="#1e1e1e" stroke-width="0.3" >ADCC</text>
<text x="673.5" y="220.8" font-size="19.5" fill="#1e1e1e" font-weight="normal" text-anchor="start" textLength="48.6" lengthAdjust="spacingAndGlyphs" stroke="#1e1e1e" stroke-width="0.3" >CD16</text>
<text x="795.8" y="226.6" font-size="18.5" fill="#1e1e1e" font-weight="normal" text-anchor="start" textLength="31" lengthAdjust="spacingAndGlyphs" stroke="#1e1e1e" stroke-width="0.3" >Fas</text>
<text x="719.2" y="269.7" font-size="19" fill="#1e1e1e" font-weight="normal" text-anchor="start" textLength="42.6" lengthAdjust="spacingAndGlyphs" stroke="#1e1e1e" stroke-width="0.3" >FasL</text>
<text x="820.3" y="281.7" font-size="15.6" fill="#1e1e1e" font-weight="normal" text-anchor="start" textLength="54.8" lengthAdjust="spacingAndGlyphs" stroke="#1e1e1e" stroke-width="0.3" >TRAILR</text>
<text x="737.3" y="328.3" font-size="19.4" fill="#1e1e1e" font-weight="normal" text-anchor="start" textLength="52.6" lengthAdjust="spacingAndGlyphs" stroke="#1e1e1e" stroke-width="0.3" >TRAIL</text>
<rect x="796" y="372" width="93" height="10" fill="#fff"/>
<text x="795.3" y="385.6" font-size="20" fill="#1e1e1e" font-weight="normal" text-anchor="start" textLength="92.2" lengthAdjust="spacingAndGlyphs" stroke="#1e1e1e" stroke-width="0.3" >exosomes</text>
<text x="738.6" y="445.2" font-size="19.5" fill="#1e1e1e" font-weight="normal" text-anchor="start" textLength="106.3" lengthAdjust="spacingAndGlyphs" stroke="#1e1e1e" stroke-width="0.3" >CD80/CD86</text>
<text x="772.2" y="505.8" font-size="18.5" fill="#1e1e1e" font-weight="normal" text-anchor="start" textLength="48.6" lengthAdjust="spacingAndGlyphs" stroke="#1e1e1e" stroke-width="0.3" >CD28</text>
<text x="706.2" y="500.2" font-size="17.3" fill="#1e1e1e" font-weight="normal" text-anchor="start" textLength="47.5" lengthAdjust="spacingAndGlyphs" stroke="#1e1e1e" stroke-width="0.3" >MHC-I</text>
<text x="637.5" y="571.8" font-size="16.5" fill="#1e1e1e" font-weight="normal" text-anchor="start" textLength="51" lengthAdjust="spacingAndGlyphs" stroke="#1e1e1e" stroke-width="0.3" >MHC-II</text>
<text x="785" y="578" font-size="16.5" fill="#1e1e1e" font-weight="normal" text-anchor="start" textLength="30.8" lengthAdjust="spacingAndGlyphs" stroke="#1e1e1e" stroke-width="0.3" >TCR</text>
<text x="600.2" y="592.4" font-size="16.2" fill="#1e1e1e" font-weight="normal" text-anchor="start" textLength="41" lengthAdjust="spacingAndGlyphs" stroke="#1e1e1e" stroke-width="0.3" >IFN-γ</text>
<text x="601" y="612.3" font-size="16.2" fill="#1e1e1e" font-weight="normal" text-anchor="start" textLength="45.6" lengthAdjust="spacingAndGlyphs" stroke="#1e1e1e" stroke-width="0.3" >TNF-α</text>
<text x="538.4" y="637.8" font-size="16.2" fill="#1e1e1e" font-weight="normal" text-anchor="start" textLength="60.8" lengthAdjust="spacingAndGlyphs" stroke="#1e1e1e" stroke-width="0.3" >CD137L</text>
<text x="555.2" y="673.5" font-size="15.8" fill="#1e1e1e" font-weight="normal" text-anchor="start" textLength="51" lengthAdjust="spacingAndGlyphs" stroke="#1e1e1e" stroke-width="0.3" >CD137</text>
<line x1="381.63" y1="110.1" x2="410.13" y2="134.6" stroke="#5a3617" stroke-width="2" stroke-linecap="round"/>
<line x1="378.37" y1="113.9" x2="406.87" y2="138.4" stroke="#5a3617" stroke-width="2" stroke-linecap="round"/>
<ellipse cx="410.3" cy="137.3" rx="4.6" ry="3" transform="rotate(18 410.3 137.3)" fill="#8b5226" stroke="none" stroke-width="0.8"/>
<ellipse cx="419.5" cy="139.2" rx="5.2" ry="3.6" transform="rotate(12 419.5 139.2)" fill="#8b5226" stroke="none" stroke-width="0.8"/>
<ellipse cx="404.8" cy="142.8" rx="3" ry="4.8" transform="rotate(-20 404.8 142.8)" fill="#8b5226" stroke="none" stroke-width="0.8"/>
<ellipse cx="405.5" cy="151.3" rx="3.4" ry="5.2" transform="rotate(-10 405.5 151.3)" fill="#8b5226" stroke="none" stroke-width="0.8"/>
<line x1="422.86" y1="152.83" x2="459.86" y2="195.83" stroke="#f1b235" stroke-width="1.9" stroke-linecap="round"/>
<line x1="420.14" y1="155.17" x2="457.14" y2="198.17" stroke="#f1b235" stroke-width="1.9" stroke-linecap="round"/>
<ellipse cx="425" cy="146" rx="4.2" ry="5.4" transform="rotate(15 425 146)" fill="#f1b235" stroke="none" stroke-width="0.8"/>
<ellipse cx="414.2" cy="157.5" rx="5.4" ry="4" transform="rotate(-15 414.2 157.5)" fill="#f1b235" stroke="none" stroke-width="0.8"/>
<path d="M421,155 L424,149 M421,155 L416,157" stroke="#f1b235" stroke-width="2.6" fill="none" stroke-linecap="round"/>
<path d="M368.9,198.7 L394,224.6 C398,230 402,232 406.7,238" stroke="#9b2f4a" stroke-width="1.2" fill="none"/>
<rect x="383.5" y="216.9" width="9" height="3.6" rx="1.8" transform="rotate(50 388 218.7)" fill="#e8906a" stroke="none" stroke-width="0.8"/>
<circle cx="394" cy="224.6" r="1.6" fill="#f0a020"/>
<path d="M366,192.5 L372.6,191 A6.8,6.8 0 1 1 369.2,186.3 Z" fill="#e8906a"/>
<path d="M371,201 q2,-2 1,-4" stroke="#5aa8d8" stroke-width="0.9" fill="none"/>
<path d="M375,206 q2,-2 1,-4" stroke="#5aa8d8" stroke-width="0.9" fill="none"/>
<path d="M379,210 q2,-2 1,-4" stroke="#5aa8d8" stroke-width="0.9" fill="none"/>
<path d="M383,205 q2,-2 1,-4" stroke="#5aa8d8" stroke-width="0.9" fill="none"/>
<path d="M367,205 q2,-2 1,-4" stroke="#6ac06a" stroke-width="0.9" fill="none"/>
<path d="M381,201 q2,-2 1,-4" stroke="#6ac06a" stroke-width="0.9" fill="none"/>
<path d="M386,211 q2,-2 1,-4" stroke="#6ac06a" stroke-width="0.9" fill="none"/>
<path d="M349.6,229.8 L353,232.5 L386.7,252 M346.7,234.3 L350,237 L383,257.2" stroke="#4a2a10" stroke-width="2.3" fill="none" stroke-linecap="round"/>
<rect x="335.8" y="211.7" width="21" height="11" rx="5.5" transform="rotate(66 346.3 217.2)" fill="#8b4f22" stroke="#5a3010" stroke-width="0.6"/>
<rect x="322.8" y="230.5" width="24" height="9.8" rx="4.9" transform="rotate(-3 334.8 235.4)" fill="#8b4f22" stroke="#5a3010" stroke-width="0.6"/>
<path d="M660.1,185.6 L645.8,199.9 M668.9,194.4 L654.6,208.7 M656.8,191.1 L663.9,197.1" stroke="#7fb5c8" stroke-width="1.6" fill="none"/>
<rect x="629.45" y="203.9" width="17.5" height="5.2" rx="2.6" transform="rotate(-45 638.2 206.5)" fill="#9acbd8" stroke="none" stroke-width="0.8"/>
<rect x="638.15" y="213.2" width="17.5" height="5.2" rx="2.6" transform="rotate(-45 646.9 215.8)" fill="#9acbd8" stroke="none" stroke-width="0.8"/>
<path d="M684.2,192.2 L646.9,228.9" stroke="#7fb5c8" stroke-width="2.3" stroke-linecap="round"/>
<ellipse cx="669.4" cy="167.3" rx="8.8" ry="5.3" transform="rotate(0 669.4 167.3)" fill="#93c5d6" stroke="none" stroke-width="0.8"/>
<path d="M678.7,166.4 C683,165.5 687,167.5 688,175.2" stroke="#7fb5c8" stroke-width="2" fill="none"/>
<ellipse cx="685.9" cy="183.4" rx="4.9" ry="8.8" transform="rotate(15 685.9 183.4)" fill="#93c5d6" stroke="none" stroke-width="0.8"/>
<path d="M689,174.5 L719.9,169.7 L737.6,158.5 M689,180.5 L721.3,175.4 L741.2,182.5" stroke="#6b6b6b" stroke-width="3" fill="none" stroke-linejoin="round"/>
<rect x="714.7" y="157.8" width="19" height="3.8" rx="1.9" transform="rotate(-32 724.2 159.7)" fill="#6b6b6b" stroke="none" stroke-width="0.8"/>
<rect x="718" y="183.1" width="20" height="3.8" rx="1.9" transform="rotate(15 728 185)" fill="#6b6b6b" stroke="none" stroke-width="0.8"/>
<rect x="742.25" y="153" width="19.5" height="10" rx="4" transform="rotate(-4 752 158)" fill="#cc7f93" stroke="#a8607a" stroke-width="0.8"/>
<rect x="762.25" y="152" width="19.5" height="10" rx="4" transform="rotate(-4 772 157)" fill="#cc7f93" stroke="#a8607a" stroke-width="0.8"/>
<rect x="742.75" y="164" width="19.5" height="10" rx="4" transform="rotate(-4 752.5 169)" fill="#cc7f93" stroke="#a8607a" stroke-width="0.8"/>
<rect x="762.75" y="163.3" width="19.5" height="10" rx="4" transform="rotate(-4 772.5 168.3)" fill="#cc7f93" stroke="#a8607a" stroke-width="0.8"/>
<path d="M782,157 L822,152.8 M783,166.8 L822.6,164" stroke="#b07a44" stroke-width="1.6" fill="none"/>
<line x1="809.08" y1="194.56" x2="788.08" y2="211.56" stroke="#1c2766" stroke-width="1.3" stroke-linecap="round"/>
<line x1="807" y1="192" x2="786" y2="209" stroke="#1c2766" stroke-width="1.3" stroke-linecap="round"/>
<line x1="804.92" y1="189.44" x2="783.92" y2="206.44" stroke="#1c2766" stroke-width="1.3" stroke-linecap="round"/>
<line x1="807" y1="192" x2="786" y2="209" stroke="#3a58a8" stroke-width="1.1"/>
<ellipse cx="759.1" cy="221.1" rx="6.6" ry="5.6" transform="rotate(-30 759.1 221.1)" fill="#4a66a6" stroke="#2f4580" stroke-width="0.7"/>
<ellipse cx="760.8" cy="222.8" rx="5.2" ry="4.4" transform="rotate(-30 760.8 222.8)" fill="#6a90d6" stroke="none" stroke-width="0.8"/>
<path d="M754.9,225.9 q4,4 10,-1" stroke="#4a66a6" stroke-width="1.6" fill="none"/>
<ellipse cx="770.2" cy="214.6" rx="6.6" ry="5.6" transform="rotate(-30 770.2 214.6)" fill="#4a66a6" stroke="#2f4580" stroke-width="0.7"/>
<ellipse cx="771.9" cy="216.3" rx="5.2" ry="4.4" transform="rotate(-30 771.9 216.3)" fill="#6a90d6" stroke="none" stroke-width="0.8"/>
<path d="M766,219.4 q4,4 10,-1" stroke="#4a66a6" stroke-width="1.6" fill="none"/>
<ellipse cx="781.3" cy="209" rx="6.6" ry="5.6" transform="rotate(-30 781.3 209)" fill="#4a66a6" stroke="#2f4580" stroke-width="0.7"/>
<ellipse cx="783" cy="210.7" rx="5.2" ry="4.4" transform="rotate(-30 783 210.7)" fill="#6a90d6" stroke="none" stroke-width="0.8"/>
<path d="M777.1,213.8 q4,4 10,-1" stroke="#4a66a6" stroke-width="1.6" fill="none"/>
<rect x="805.65" y="180.9" width="21.5" height="18" rx="6" transform="rotate(-32 816.4 189.9)" fill="#4a66a6" stroke="#2f4580" stroke-width="0.8"/>
<rect x="807.9" y="187.3" width="19" height="8.4" rx="4.2" transform="rotate(-32 817.4 191.5)" fill="#6a90d6" stroke="#3d5a98" stroke-width="0.5"/>
<line x1="685.32" y1="254.62" x2="732.32" y2="229.82" stroke="#2c5f8f" stroke-width="1.5" stroke-linecap="round"/>
<line x1="687" y1="257.8" x2="734" y2="233" stroke="#2c5f8f" stroke-width="1.5" stroke-linecap="round"/>
<line x1="688.68" y1="260.98" x2="735.68" y2="236.18" stroke="#2c5f8f" stroke-width="1.5" stroke-linecap="round"/>
<ellipse cx="741.3" cy="238.4" rx="6.8" ry="4.8" transform="rotate(-30 741.3 238.4)" fill="#d8e8f6" stroke="#7ca6cc" stroke-width="0.8"/>
<ellipse cx="740.4" cy="233.6" rx="6.8" ry="4.8" transform="rotate(-30 740.4 233.6)" fill="#d8e8f6" stroke="#7ca6cc" stroke-width="0.8"/>
<ellipse cx="737.5" cy="227.8" rx="6.8" ry="4.8" transform="rotate(-30 737.5 227.8)" fill="#d8e8f6" stroke="#7ca6cc" stroke-width="0.8"/>
<line x1="722.34" y1="305.58" x2="753.34" y2="290.58" stroke="#9a3c80" stroke-width="1.5" stroke-linecap="round"/>
<line x1="724" y1="309" x2="755" y2="294" stroke="#9a3c80" stroke-width="1.5" stroke-linecap="round"/>
<line x1="725.66" y1="312.42" x2="756.66" y2="297.42" stroke="#9a3c80" stroke-width="1.5" stroke-linecap="round"/>
<rect x="707.2" y="305.9" width="19" height="4.8" rx="2.4" transform="rotate(-22 716.7 308.3)" fill="#eaa2d8" stroke="#cc78b8" stroke-width="0.6"/>
<rect x="706.3" y="310.9" width="19" height="4.8" rx="2.4" transform="rotate(-22 715.8 313.3)" fill="#eaa2d8" stroke="#cc78b8" stroke-width="0.6"/>
<rect x="710.5" y="315.9" width="19" height="4.8" rx="2.4" transform="rotate(-22 720 318.3)" fill="#eaa2d8" stroke="#cc78b8" stroke-width="0.6"/>
<ellipse cx="760" cy="287.5" rx="8" ry="4.6" transform="rotate(-18 760 287.5)" fill="#eaa2d8" stroke="#c878b6" stroke-width="0.8"/>
<ellipse cx="766.7" cy="300" rx="7.2" ry="5" transform="rotate(-18 766.7 300)" fill="#eaa2d8" stroke="#c878b6" stroke-width="0.8"/>
<ellipse cx="762.5" cy="294.2" rx="9" ry="5.6" transform="rotate(-18 762.5 294.2)" fill="#eaa2d8" stroke="#c878b6" stroke-width="0.8"/>
<line x1="832.88" y1="239.09" x2="805.28" y2="261.69" stroke="#5a2878" stroke-width="1.5" stroke-linecap="round"/>
<line x1="830.6" y1="236.3" x2="803" y2="258.9" stroke="#5a2878" stroke-width="1.5" stroke-linecap="round"/>
<line x1="828.32" y1="233.51" x2="800.72" y2="256.11" stroke="#5a2878" stroke-width="1.5" stroke-linecap="round"/>
<rect x="828" y="227" width="18" height="5.6" rx="2.8" transform="rotate(-35 837 229.8)" fill="#8a48a8" stroke="#6a3088" stroke-width="0.5"/>
<rect x="836" y="228.7" width="18" height="5.6" rx="2.8" transform="rotate(-35 845 231.5)" fill="#b06ac8" stroke="#6a3088" stroke-width="0.5"/>
<rect x="836" y="236.7" width="18" height="5.6" rx="2.8" transform="rotate(-35 845 239.5)" fill="#8a48a8" stroke="#6a3088" stroke-width="0.5"/>
<rect x="776.5" y="266" width="12" height="6.4" rx="2" transform="rotate(-15 782.5 269.2)" fill="#8a48a8" stroke="#6a3088" stroke-width="0.5"/>
<rect x="789" y="261.8" width="12" height="6.4" rx="2" transform="rotate(-20 795 265)" fill="#8a48a8" stroke="#6a3088" stroke-width="0.5"/>
<rect x="802.3" y="258.8" width="12" height="6.4" rx="2" transform="rotate(-35 808.3 262)" fill="#8a48a8" stroke="#6a3088" stroke-width="0.5"/>
<rect x="794" y="267.6" width="12" height="6.4" rx="2" transform="rotate(-30 800 270.8)" fill="#b06ac8" stroke="#6a3088" stroke-width="0.5"/>
<rect x="806" y="264.8" width="12" height="6.4" rx="2" transform="rotate(-35 812 268)" fill="#8a48a8" stroke="#6a3088" stroke-width="0.5"/>
<rect x="784" y="276.8" width="12" height="6.4" rx="2" transform="rotate(-55 790 280)" fill="#b06ac8" stroke="#6a3088" stroke-width="0.5"/>
<rect x="800.7" y="273.5" width="12" height="6.4" rx="2" transform="rotate(-55 806.7 276.7)" fill="#8a48a8" stroke="#6a3088" stroke-width="0.5"/>
<rect x="794" y="285.1" width="12" height="6.4" rx="2" transform="rotate(-70 800 288.3)" fill="#8a48a8" stroke="#6a3088" stroke-width="0.5"/>
<rect x="798" y="254.8" width="12" height="6.4" rx="2" transform="rotate(-35 804 258)" fill="#8a48a8" stroke="#6a3088" stroke-width="0.5"/>
<rect x="884" y="241.4" width="12" height="3.2" rx="1.6" transform="rotate(90 890 243)" fill="#8a48a8" stroke="#6a3088" stroke-width="0.4"/>
<rect x="889.5" y="241.4" width="12" height="3.2" rx="1.6" transform="rotate(90 895.5 243)" fill="#b06ac8" stroke="#6a3088" stroke-width="0.4"/>
<rect x="895" y="241.4" width="12" height="3.2" rx="1.6" transform="rotate(90 901 243)" fill="#8a48a8" stroke="#6a3088" stroke-width="0.4"/>
<line x1="891" y1="250" x2="891" y2="268" stroke="#6a2a8a" stroke-width="1.6" stroke-linecap="round"/>
<line x1="895.5" y1="250" x2="895.5" y2="268" stroke="#6a2a8a" stroke-width="1.6" stroke-linecap="round"/>
<line x1="900" y1="250" x2="900" y2="268" stroke="#6a2a8a" stroke-width="1.6" stroke-linecap="round"/>
<rect x="885" y="267.9" width="8" height="4.2" rx="2.1" transform="rotate(90 889 270)" fill="#8a48a8" stroke="#6a3088" stroke-width="0.4"/>
<rect x="891.5" y="267.9" width="8" height="4.2" rx="2.1" transform="rotate(90 895.5 270)" fill="#b06ac8" stroke="#6a3088" stroke-width="0.4"/>
<rect x="898" y="267.9" width="8" height="4.2" rx="2.1" transform="rotate(90 902 270)" fill="#8a48a8" stroke="#6a3088" stroke-width="0.4"/>
<rect x="883" y="278.9" width="8" height="4.2" rx="2.1" transform="rotate(70 887 281)" fill="#8a48a8" stroke="#6a3088" stroke-width="0.4"/>
<rect x="891.5" y="278.9" width="8" height="4.2" rx="2.1" transform="rotate(90 895.5 281)" fill="#b06ac8" stroke="#6a3088" stroke-width="0.4"/>
<rect x="899" y="278.9" width="8" height="4.2" rx="2.1" transform="rotate(110 903 281)" fill="#8a48a8" stroke="#6a3088" stroke-width="0.4"/>
<rect x="881" y="286.9" width="8" height="4.2" rx="2.1" transform="rotate(60 885 289)" fill="#8a48a8" stroke="#6a3088" stroke-width="0.4"/>
<rect x="891.5" y="287.9" width="8" height="4.2" rx="2.1" transform="rotate(90 895.5 290)" fill="#b06ac8" stroke="#6a3088" stroke-width="0.4"/>
<rect x="901.5" y="286.9" width="8" height="4.2" rx="2.1" transform="rotate(120 905.5 289)" fill="#8a48a8" stroke="#6a3088" stroke-width="0.4"/>
<rect x="901" y="241" width="13" height="6" rx="3" transform="rotate(90 907.5 244)" fill="#4a67a6" stroke="#2f4580" stroke-width="0.5"/>
<line x1="906" y1="250" x2="906" y2="270" stroke="#2f4580" stroke-width="1.2" stroke-linecap="round"/>
<line x1="909" y1="250" x2="909" y2="270" stroke="#2f4580" stroke-width="1.2" stroke-linecap="round"/>
<ellipse cx="907.8" cy="272" rx="4" ry="4" transform="rotate(0 907.8 272)" fill="#4a67a6" stroke="#2f4580" stroke-width="0.5"/>
<ellipse cx="907.8" cy="279" rx="4" ry="4" transform="rotate(0 907.8 279)" fill="#4a67a6" stroke="#2f4580" stroke-width="0.5"/>
<ellipse cx="907.8" cy="286" rx="4" ry="4" transform="rotate(0 907.8 286)" fill="#4a67a6" stroke="#2f4580" stroke-width="0.5"/>
<circle cx="752.7" cy="379.7" r="23.97" fill="#eaf2fa" stroke="#d3e6f0" stroke-width="3.31"/>
<circle cx="752.7" cy="379.7" r="25.5" fill="none" stroke="#a9bcc6" stroke-width="1.15"/>
<circle cx="752.7" cy="379.7" r="21.93" fill="none" stroke="#a9bcc6" stroke-width="1.15"/>
<line x1="748.98" y1="358.61" x2="746.86" y2="346.55" stroke="#3f9bcf" stroke-width="2.81" stroke-linecap="round"/><line x1="746.86" y1="346.55" x2="741.36" y2="342.41" stroke="#3f9bcf" stroke-width="1.53"/><circle cx="741.36" cy="342.41" r="2.42" fill="#3f9bcf"/><line x1="746.86" y1="346.55" x2="750.6" y2="340.78" stroke="#3f9bcf" stroke-width="1.53"/><circle cx="750.6" cy="340.78" r="2.42" fill="#3f9bcf"/><line x1="764.99" y1="362.15" x2="772.01" y2="352.13" stroke="#3f9bcf" stroke-width="2.81" stroke-linecap="round"/><line x1="772.01" y1="352.13" x2="771.05" y2="345.31" stroke="#3f9bcf" stroke-width="1.53"/><circle cx="771.05" cy="345.31" r="2.42" fill="#3f9bcf"/><line x1="772.01" y1="352.13" x2="778.74" y2="350.69" stroke="#3f9bcf" stroke-width="1.53"/><circle cx="778.74" cy="350.69" r="2.42" fill="#3f9bcf"/><line x1="773.79" y1="375.98" x2="785.85" y2="373.86" stroke="#3f9bcf" stroke-width="2.81" stroke-linecap="round"/><line x1="785.85" y1="373.86" x2="789.99" y2="368.36" stroke="#3f9bcf" stroke-width="1.53"/><circle cx="789.99" cy="368.36" r="2.42" fill="#3f9bcf"/><line x1="785.85" y1="373.86" x2="791.62" y2="377.6" stroke="#3f9bcf" stroke-width="1.53"/><circle cx="791.62" cy="377.6" r="2.42" fill="#3f9bcf"/><line x1="770.25" y1="391.99" x2="780.27" y2="399.01" stroke="#3f9bcf" stroke-width="2.81" stroke-linecap="round"/><line x1="780.27" y1="399.01" x2="787.09" y2="398.05" stroke="#3f9bcf" stroke-width="1.53"/><circle cx="787.09" cy="398.05" r="2.42" fill="#3f9bcf"/><line x1="780.27" y1="399.01" x2="781.71" y2="405.74" stroke="#3f9bcf" stroke-width="1.53"/><circle cx="781.71" cy="405.74" r="2.42" fill="#3f9bcf"/><line x1="756.42" y1="400.79" x2="758.54" y2="412.85" stroke="#3f9bcf" stroke-width="2.81" stroke-linecap="round"/><line x1="758.54" y1="412.85" x2="764.04" y2="416.99" stroke="#3f9bcf" stroke-width="1.53"/><circle cx="764.04" cy="416.99" r="2.42" fill="#3f9bcf"/><line x1="758.54" y1="412.85" x2="754.8" y2="418.62" stroke="#3f9bcf" stroke-width="1.53"/><circle cx="754.8" cy="418.62" r="2.42" fill="#3f9bcf"/><line x1="740.41" y1="397.25" x2="733.39" y2="407.27" stroke="#3f9bcf" stroke-width="2.81" stroke-linecap="round"/><line x1="733.39" y1="407.27" x2="734.35" y2="414.09" stroke="#3f9bcf" stroke-width="1.53"/><circle cx="734.35" cy="414.09" r="2.42" fill="#3f9bcf"/><line x1="733.39" y1="407.27" x2="726.66" y2="408.71" stroke="#3f9bcf" stroke-width="1.53"/><circle cx="726.66" cy="408.71" r="2.42" fill="#3f9bcf"/><line x1="731.61" y1="383.42" x2="719.55" y2="385.54" stroke="#3f9bcf" stroke-width="2.81" stroke-linecap="round"/><line x1="719.55" y1="385.54" x2="715.41" y2="391.04" stroke="#3f9bcf" stroke-width="1.53"/><circle cx="715.41" cy="391.04" r="2.42" fill="#3f9bcf"/><line x1="719.55" y1="385.54" x2="713.78" y2="381.8" stroke="#3f9bcf" stroke-width="1.53"/><circle cx="713.78" cy="381.8" r="2.42" fill="#3f9bcf"/><line x1="735.15" y1="367.41" x2="725.13" y2="360.39" stroke="#3f9bcf" stroke-width="2.81" stroke-linecap="round"/><line x1="725.13" y1="360.39" x2="718.31" y2="361.35" stroke="#3f9bcf" stroke-width="1.53"/><circle cx="718.31" cy="361.35" r="2.42" fill="#3f9bcf"/><line x1="725.13" y1="360.39" x2="723.69" y2="353.66" stroke="#3f9bcf" stroke-width="1.53"/><circle cx="723.69" cy="353.66" r="2.42" fill="#3f9bcf"/>
<polyline points="734.34,380.98 735.36,382.01 736.38,382.88 737.4,383.53 738.42,383.93 739.44,384.03 740.46,383.84 741.48,383.37 742.5,382.65 743.52,381.72 744.54,380.66 745.56,379.53 746.58,378.42 747.6,377.39 748.62,376.52 749.64,375.87 750.66,375.47 751.68,375.37 752.7,375.56 753.72,376.03 754.74,376.75 755.76,377.68 756.78,378.74 757.8,379.87 758.82,380.98 759.84,382.01 760.86,382.88 761.88,383.53 762.9,383.93 763.92,384.03 764.94,383.84 765.96,383.37 766.98,382.65 768,381.72 769.02,380.66 770.04,379.53 771.06,378.42" stroke="#d0403a" stroke-width="1.91" fill="none"/>
<circle cx="836" cy="344.8" r="16.26" fill="#eaf2fa" stroke="#d3e6f0" stroke-width="2.25"/>
<circle cx="836" cy="344.8" r="17.3" fill="none" stroke="#a9bcc6" stroke-width="0.78"/>
<circle cx="836" cy="344.8" r="14.88" fill="none" stroke="#a9bcc6" stroke-width="0.78"/>
<line x1="834.73" y1="330.32" x2="834.01" y2="322.05" stroke="#3f9bcf" stroke-width="1.9" stroke-linecap="round"/><line x1="834.01" y1="322.05" x2="830.54" y2="318.92" stroke="#3f9bcf" stroke-width="1.04"/><circle cx="830.54" cy="318.92" r="1.64" fill="#3f9bcf"/><line x1="834.01" y1="322.05" x2="836.88" y2="318.37" stroke="#3f9bcf" stroke-width="1.04"/><circle cx="836.88" cy="318.37" r="1.64" fill="#3f9bcf"/><line x1="845.34" y1="333.67" x2="850.68" y2="327.31" stroke="#3f9bcf" stroke-width="1.9" stroke-linecap="round"/><line x1="850.68" y1="327.31" x2="850.44" y2="322.64" stroke="#3f9bcf" stroke-width="1.04"/><circle cx="850.44" cy="322.64" r="1.64" fill="#3f9bcf"/><line x1="850.68" y1="327.31" x2="855.31" y2="326.74" stroke="#3f9bcf" stroke-width="1.04"/><circle cx="855.31" cy="326.74" r="1.64" fill="#3f9bcf"/><line x1="850.48" y1="343.53" x2="858.75" y2="342.81" stroke="#3f9bcf" stroke-width="1.9" stroke-linecap="round"/><line x1="858.75" y1="342.81" x2="861.88" y2="339.34" stroke="#3f9bcf" stroke-width="1.04"/><circle cx="861.88" cy="339.34" r="1.64" fill="#3f9bcf"/><line x1="858.75" y1="342.81" x2="862.43" y2="345.68" stroke="#3f9bcf" stroke-width="1.04"/><circle cx="862.43" cy="345.68" r="1.64" fill="#3f9bcf"/><line x1="847.13" y1="354.14" x2="853.49" y2="359.48" stroke="#3f9bcf" stroke-width="1.9" stroke-linecap="round"/><line x1="853.49" y1="359.48" x2="858.16" y2="359.24" stroke="#3f9bcf" stroke-width="1.04"/><circle cx="858.16" cy="359.24" r="1.64" fill="#3f9bcf"/><line x1="853.49" y1="359.48" x2="854.06" y2="364.11" stroke="#3f9bcf" stroke-width="1.04"/><circle cx="854.06" cy="364.11" r="1.64" fill="#3f9bcf"/><line x1="837.27" y1="359.28" x2="837.99" y2="367.55" stroke="#3f9bcf" stroke-width="1.9" stroke-linecap="round"/><line x1="837.99" y1="367.55" x2="841.46" y2="370.68" stroke="#3f9bcf" stroke-width="1.04"/><circle cx="841.46" cy="370.68" r="1.64" fill="#3f9bcf"/><line x1="837.99" y1="367.55" x2="835.12" y2="371.23" stroke="#3f9bcf" stroke-width="1.04"/><circle cx="835.12" cy="371.23" r="1.64" fill="#3f9bcf"/><line x1="826.66" y1="355.93" x2="821.32" y2="362.29" stroke="#3f9bcf" stroke-width="1.9" stroke-linecap="round"/><line x1="821.32" y1="362.29" x2="821.56" y2="366.96" stroke="#3f9bcf" stroke-width="1.04"/><circle cx="821.56" cy="366.96" r="1.64" fill="#3f9bcf"/><line x1="821.32" y1="362.29" x2="816.69" y2="362.86" stroke="#3f9bcf" stroke-width="1.04"/><circle cx="816.69" cy="362.86" r="1.64" fill="#3f9bcf"/><line x1="821.52" y1="346.07" x2="813.25" y2="346.79" stroke="#3f9bcf" stroke-width="1.9" stroke-linecap="round"/><line x1="813.25" y1="346.79" x2="810.12" y2="350.26" stroke="#3f9bcf" stroke-width="1.04"/><circle cx="810.12" cy="350.26" r="1.64" fill="#3f9bcf"/><line x1="813.25" y1="346.79" x2="809.57" y2="343.92" stroke="#3f9bcf" stroke-width="1.04"/><circle cx="809.57" cy="343.92" r="1.64" fill="#3f9bcf"/><line x1="824.87" y1="335.46" x2="818.51" y2="330.12" stroke="#3f9bcf" stroke-width="1.9" stroke-linecap="round"/><line x1="818.51" y1="330.12" x2="813.84" y2="330.36" stroke="#3f9bcf" stroke-width="1.04"/><circle cx="813.84" cy="330.36" r="1.64" fill="#3f9bcf"/><line x1="818.51" y1="330.12" x2="817.94" y2="325.49" stroke="#3f9bcf" stroke-width="1.04"/><circle cx="817.94" cy="325.49" r="1.64" fill="#3f9bcf"/>
<polyline points="823.54,345.67 824.24,346.37 824.93,346.96 825.62,347.4 826.31,347.67 827,347.74 827.7,347.61 828.39,347.29 829.08,346.8 829.77,346.17 830.46,345.45 831.16,344.69 831.85,343.93 832.54,343.23 833.23,342.64 833.92,342.2 834.62,341.93 835.31,341.86 836,341.99 836.69,342.31 837.38,342.8 838.08,343.43 838.77,344.15 839.46,344.91 840.15,345.67 840.84,346.37 841.54,346.96 842.23,347.4 842.92,347.67 843.61,347.74 844.3,347.61 845,347.29 845.69,346.8 846.38,346.17 847.07,345.45 847.76,344.69 848.46,343.93" stroke="#d0403a" stroke-width="1.3" fill="none"/>
<circle cx="894.5" cy="311.2" r="17.2" fill="#eaf2fa" stroke="#d3e6f0" stroke-width="2.38"/>
<circle cx="894.5" cy="311.2" r="18.3" fill="none" stroke="#a9bcc6" stroke-width="0.82"/>
<circle cx="894.5" cy="311.2" r="15.74" fill="none" stroke="#a9bcc6" stroke-width="0.82"/>
<line x1="897.17" y1="296.06" x2="898.69" y2="287.41" stroke="#3f9bcf" stroke-width="2.01" stroke-linecap="round"/><line x1="898.69" y1="287.41" x2="896.01" y2="283.27" stroke="#3f9bcf" stroke-width="1.1"/><circle cx="896.01" cy="283.27" r="1.74" fill="#3f9bcf"/><line x1="898.69" y1="287.41" x2="902.64" y2="284.44" stroke="#3f9bcf" stroke-width="1.1"/><circle cx="902.64" cy="284.44" r="1.74" fill="#3f9bcf"/><line x1="907.09" y1="302.38" x2="914.29" y2="297.34" stroke="#3f9bcf" stroke-width="2.01" stroke-linecap="round"/><line x1="914.29" y1="297.34" x2="915.32" y2="292.51" stroke="#3f9bcf" stroke-width="1.1"/><circle cx="915.32" cy="292.51" r="1.74" fill="#3f9bcf"/><line x1="914.29" y1="297.34" x2="919.18" y2="298.03" stroke="#3f9bcf" stroke-width="1.1"/><circle cx="919.18" cy="298.03" r="1.74" fill="#3f9bcf"/><line x1="909.64" y1="313.87" x2="918.29" y2="315.39" stroke="#3f9bcf" stroke-width="2.01" stroke-linecap="round"/><line x1="918.29" y1="315.39" x2="922.43" y2="312.71" stroke="#3f9bcf" stroke-width="1.1"/><circle cx="922.43" cy="312.71" r="1.74" fill="#3f9bcf"/><line x1="918.29" y1="315.39" x2="921.26" y2="319.34" stroke="#3f9bcf" stroke-width="1.1"/><circle cx="921.26" cy="319.34" r="1.74" fill="#3f9bcf"/><line x1="903.32" y1="323.79" x2="908.36" y2="330.99" stroke="#3f9bcf" stroke-width="2.01" stroke-linecap="round"/><line x1="908.36" y1="330.99" x2="913.19" y2="332.02" stroke="#3f9bcf" stroke-width="1.1"/><circle cx="913.19" cy="332.02" r="1.74" fill="#3f9bcf"/><line x1="908.36" y1="330.99" x2="907.67" y2="335.88" stroke="#3f9bcf" stroke-width="1.1"/><circle cx="907.67" cy="335.88" r="1.74" fill="#3f9bcf"/><line x1="891.83" y1="326.34" x2="890.31" y2="334.99" stroke="#3f9bcf" stroke-width="2.01" stroke-linecap="round"/><line x1="890.31" y1="334.99" x2="892.99" y2="339.13" stroke="#3f9bcf" stroke-width="1.1"/><circle cx="892.99" cy="339.13" r="1.74" fill="#3f9bcf"/><line x1="890.31" y1="334.99" x2="886.36" y2="337.96" stroke="#3f9bcf" stroke-width="1.1"/><circle cx="886.36" cy="337.96" r="1.74" fill="#3f9bcf"/><line x1="881.91" y1="320.02" x2="874.71" y2="325.06" stroke="#3f9bcf" stroke-width="2.01" stroke-linecap="round"/><line x1="874.71" y1="325.06" x2="873.68" y2="329.89" stroke="#3f9bcf" stroke-width="1.1"/><circle cx="873.68" cy="329.89" r="1.74" fill="#3f9bcf"/><line x1="874.71" y1="325.06" x2="869.82" y2="324.37" stroke="#3f9bcf" stroke-width="1.1"/><circle cx="869.82" cy="324.37" r="1.74" fill="#3f9bcf"/><line x1="879.36" y1="308.53" x2="870.71" y2="307.01" stroke="#3f9bcf" stroke-width="2.01" stroke-linecap="round"/><line x1="870.71" y1="307.01" x2="866.57" y2="309.69" stroke="#3f9bcf" stroke-width="1.1"/><circle cx="866.57" cy="309.69" r="1.74" fill="#3f9bcf"/><line x1="870.71" y1="307.01" x2="867.74" y2="303.06" stroke="#3f9bcf" stroke-width="1.1"/><circle cx="867.74" cy="303.06" r="1.74" fill="#3f9bcf"/><line x1="885.68" y1="298.61" x2="880.64" y2="291.41" stroke="#3f9bcf" stroke-width="2.01" stroke-linecap="round"/><line x1="880.64" y1="291.41" x2="875.81" y2="290.38" stroke="#3f9bcf" stroke-width="1.1"/><circle cx="875.81" cy="290.38" r="1.74" fill="#3f9bcf"/><line x1="880.64" y1="291.41" x2="881.33" y2="286.52" stroke="#3f9bcf" stroke-width="1.1"/><circle cx="881.33" cy="286.52" r="1.74" fill="#3f9bcf"/>
<polyline points="881.32,312.12 882.06,312.86 882.79,313.48 883.52,313.95 884.25,314.23 884.98,314.31 885.72,314.17 886.45,313.83 887.18,313.31 887.91,312.65 888.64,311.89 889.38,311.08 890.11,310.28 890.84,309.54 891.57,308.92 892.3,308.45 893.04,308.17 893.77,308.09 894.5,308.23 895.23,308.57 895.96,309.09 896.7,309.75 897.43,310.51 898.16,311.32 898.89,312.12 899.62,312.86 900.36,313.48 901.09,313.95 901.82,314.23 902.55,314.31 903.28,314.17 904.02,313.83 904.75,313.31 905.48,312.65 906.21,311.89 906.94,311.08 907.68,310.28" stroke="#d0403a" stroke-width="1.37" fill="none"/>
<circle cx="829.4" cy="407" r="11.84" fill="#eaf2fa" stroke="#d3e6f0" stroke-width="1.64"/>
<circle cx="829.4" cy="407" r="12.6" fill="none" stroke="#a9bcc6" stroke-width="0.6"/>
<circle cx="829.4" cy="407" r="10.84" fill="none" stroke="#a9bcc6" stroke-width="0.6"/>
<line x1="829.4" y1="396.42" x2="829.4" y2="390.37" stroke="#3f9bcf" stroke-width="1.39" stroke-linecap="round"/><line x1="829.4" y1="390.37" x2="827.08" y2="387.88" stroke="#3f9bcf" stroke-width="0.8"/><circle cx="827.08" cy="387.88" r="1.2" fill="#3f9bcf"/><line x1="829.4" y1="390.37" x2="831.72" y2="387.88" stroke="#3f9bcf" stroke-width="0.8"/><circle cx="831.72" cy="387.88" r="1.2" fill="#3f9bcf"/><line x1="836.88" y1="399.52" x2="841.16" y2="395.24" stroke="#3f9bcf" stroke-width="1.39" stroke-linecap="round"/><line x1="841.16" y1="395.24" x2="841.28" y2="391.84" stroke="#3f9bcf" stroke-width="0.8"/><circle cx="841.28" cy="391.84" r="1.2" fill="#3f9bcf"/><line x1="841.16" y1="395.24" x2="844.56" y2="395.12" stroke="#3f9bcf" stroke-width="0.8"/><circle cx="844.56" cy="395.12" r="1.2" fill="#3f9bcf"/><line x1="839.98" y1="407" x2="846.03" y2="407" stroke="#3f9bcf" stroke-width="1.39" stroke-linecap="round"/><line x1="846.03" y1="407" x2="848.52" y2="404.68" stroke="#3f9bcf" stroke-width="0.8"/><circle cx="848.52" cy="404.68" r="1.2" fill="#3f9bcf"/><line x1="846.03" y1="407" x2="848.52" y2="409.32" stroke="#3f9bcf" stroke-width="0.8"/><circle cx="848.52" cy="409.32" r="1.2" fill="#3f9bcf"/><line x1="836.88" y1="414.48" x2="841.16" y2="418.76" stroke="#3f9bcf" stroke-width="1.39" stroke-linecap="round"/><line x1="841.16" y1="418.76" x2="844.56" y2="418.88" stroke="#3f9bcf" stroke-width="0.8"/><circle cx="844.56" cy="418.88" r="1.2" fill="#3f9bcf"/><line x1="841.16" y1="418.76" x2="841.28" y2="422.16" stroke="#3f9bcf" stroke-width="0.8"/><circle cx="841.28" cy="422.16" r="1.2" fill="#3f9bcf"/><line x1="829.4" y1="417.58" x2="829.4" y2="423.63" stroke="#3f9bcf" stroke-width="1.39" stroke-linecap="round"/><line x1="829.4" y1="423.63" x2="831.72" y2="426.12" stroke="#3f9bcf" stroke-width="0.8"/><circle cx="831.72" cy="426.12" r="1.2" fill="#3f9bcf"/><line x1="829.4" y1="423.63" x2="827.08" y2="426.12" stroke="#3f9bcf" stroke-width="0.8"/><circle cx="827.08" cy="426.12" r="1.2" fill="#3f9bcf"/><line x1="821.92" y1="414.48" x2="817.64" y2="418.76" stroke="#3f9bcf" stroke-width="1.39" stroke-linecap="round"/><line x1="817.64" y1="418.76" x2="817.52" y2="422.16" stroke="#3f9bcf" stroke-width="0.8"/><circle cx="817.52" cy="422.16" r="1.2" fill="#3f9bcf"/><line x1="817.64" y1="418.76" x2="814.24" y2="418.88" stroke="#3f9bcf" stroke-width="0.8"/><circle cx="814.24" cy="418.88" r="1.2" fill="#3f9bcf"/><line x1="818.82" y1="407" x2="812.77" y2="407" stroke="#3f9bcf" stroke-width="1.39" stroke-linecap="round"/><line x1="812.77" y1="407" x2="810.28" y2="409.32" stroke="#3f9bcf" stroke-width="0.8"/><circle cx="810.28" cy="409.32" r="1.2" fill="#3f9bcf"/><line x1="812.77" y1="407" x2="810.28" y2="404.68" stroke="#3f9bcf" stroke-width="0.8"/><circle cx="810.28" cy="404.68" r="1.2" fill="#3f9bcf"/><line x1="821.92" y1="399.52" x2="817.64" y2="395.24" stroke="#3f9bcf" stroke-width="1.39" stroke-linecap="round"/><line x1="817.64" y1="395.24" x2="814.24" y2="395.12" stroke="#3f9bcf" stroke-width="0.8"/><circle cx="814.24" cy="395.12" r="1.2" fill="#3f9bcf"/><line x1="817.64" y1="395.24" x2="817.52" y2="391.84" stroke="#3f9bcf" stroke-width="0.8"/><circle cx="817.52" cy="391.84" r="1.2" fill="#3f9bcf"/>
<polyline points="820.33,407.63 820.83,408.14 821.34,408.57 821.84,408.89 822.34,409.09 822.85,409.14 823.35,409.05 823.86,408.81 824.36,408.46 824.86,408 825.37,407.47 825.87,406.92 826.38,406.37 826.88,405.86 827.38,405.43 827.89,405.11 828.39,404.91 828.9,404.86 829.4,404.95 829.9,405.19 830.41,405.54 830.91,406 831.42,406.53 831.92,407.08 832.42,407.63 832.93,408.14 833.43,408.57 833.94,408.89 834.44,409.09 834.94,409.14 835.45,409.05 835.95,408.81 836.46,408.46 836.96,408 837.46,407.47 837.97,406.92 838.47,406.37" stroke="#d0403a" stroke-width="0.94" fill="none"/>
<circle cx="873" cy="428.3" r="15.32" fill="#eaf2fa" stroke="#d3e6f0" stroke-width="2.12"/>
<circle cx="873" cy="428.3" r="16.3" fill="none" stroke="#a9bcc6" stroke-width="0.73"/>
<circle cx="873" cy="428.3" r="14.02" fill="none" stroke="#a9bcc6" stroke-width="0.73"/>
<line x1="874.19" y1="414.66" x2="874.88" y2="406.87" stroke="#3f9bcf" stroke-width="1.79" stroke-linecap="round"/><line x1="874.88" y1="406.87" x2="872.17" y2="403.4" stroke="#3f9bcf" stroke-width="0.98"/><circle cx="872.17" cy="403.4" r="1.55" fill="#3f9bcf"/><line x1="874.88" y1="406.87" x2="878.14" y2="403.92" stroke="#3f9bcf" stroke-width="0.98"/><circle cx="878.14" cy="403.92" r="1.55" fill="#3f9bcf"/><line x1="883.49" y1="419.5" x2="889.48" y2="414.47" stroke="#3f9bcf" stroke-width="1.79" stroke-linecap="round"/><line x1="889.48" y1="414.47" x2="890.02" y2="410.1" stroke="#3f9bcf" stroke-width="0.98"/><circle cx="890.02" cy="410.1" r="1.55" fill="#3f9bcf"/><line x1="889.48" y1="414.47" x2="893.88" y2="414.7" stroke="#3f9bcf" stroke-width="0.98"/><circle cx="893.88" cy="414.7" r="1.55" fill="#3f9bcf"/><line x1="886.64" y1="429.49" x2="894.43" y2="430.18" stroke="#3f9bcf" stroke-width="1.79" stroke-linecap="round"/><line x1="894.43" y1="430.18" x2="897.9" y2="427.47" stroke="#3f9bcf" stroke-width="0.98"/><circle cx="897.9" cy="427.47" r="1.55" fill="#3f9bcf"/><line x1="894.43" y1="430.18" x2="897.38" y2="433.44" stroke="#3f9bcf" stroke-width="0.98"/><circle cx="897.38" cy="433.44" r="1.55" fill="#3f9bcf"/><line x1="881.8" y1="438.79" x2="886.83" y2="444.78" stroke="#3f9bcf" stroke-width="1.79" stroke-linecap="round"/><line x1="886.83" y1="444.78" x2="891.2" y2="445.32" stroke="#3f9bcf" stroke-width="0.98"/><circle cx="891.2" cy="445.32" r="1.55" fill="#3f9bcf"/><line x1="886.83" y1="444.78" x2="886.6" y2="449.18" stroke="#3f9bcf" stroke-width="0.98"/><circle cx="886.6" cy="449.18" r="1.55" fill="#3f9bcf"/><line x1="871.81" y1="441.94" x2="871.12" y2="449.73" stroke="#3f9bcf" stroke-width="1.79" stroke-linecap="round"/><line x1="871.12" y1="449.73" x2="873.83" y2="453.2" stroke="#3f9bcf" stroke-width="0.98"/><circle cx="873.83" cy="453.2" r="1.55" fill="#3f9bcf"/><line x1="871.12" y1="449.73" x2="867.86" y2="452.68" stroke="#3f9bcf" stroke-width="0.98"/><circle cx="867.86" cy="452.68" r="1.55" fill="#3f9bcf"/><line x1="862.51" y1="437.1" x2="856.52" y2="442.13" stroke="#3f9bcf" stroke-width="1.79" stroke-linecap="round"/><line x1="856.52" y1="442.13" x2="855.98" y2="446.5" stroke="#3f9bcf" stroke-width="0.98"/><circle cx="855.98" cy="446.5" r="1.55" fill="#3f9bcf"/><line x1="856.52" y1="442.13" x2="852.12" y2="441.9" stroke="#3f9bcf" stroke-width="0.98"/><circle cx="852.12" cy="441.9" r="1.55" fill="#3f9bcf"/><line x1="859.36" y1="427.11" x2="851.57" y2="426.42" stroke="#3f9bcf" stroke-width="1.79" stroke-linecap="round"/><line x1="851.57" y1="426.42" x2="848.1" y2="429.13" stroke="#3f9bcf" stroke-width="0.98"/><circle cx="848.1" cy="429.13" r="1.55" fill="#3f9bcf"/><line x1="851.57" y1="426.42" x2="848.62" y2="423.16" stroke="#3f9bcf" stroke-width="0.98"/><circle cx="848.62" cy="423.16" r="1.55" fill="#3f9bcf"/><line x1="864.2" y1="417.81" x2="859.17" y2="411.82" stroke="#3f9bcf" stroke-width="1.79" stroke-linecap="round"/><line x1="859.17" y1="411.82" x2="854.8" y2="411.28" stroke="#3f9bcf" stroke-width="0.98"/><circle cx="854.8" cy="411.28" r="1.55" fill="#3f9bcf"/><line x1="859.17" y1="411.82" x2="859.4" y2="407.42" stroke="#3f9bcf" stroke-width="0.98"/><circle cx="859.4" cy="407.42" r="1.55" fill="#3f9bcf"/>
<polyline points="861.26,429.12 861.92,429.78 862.57,430.33 863.22,430.75 863.87,431 864.52,431.07 865.18,430.95 865.83,430.65 866.48,430.18 867.13,429.59 867.78,428.91 868.44,428.19 869.09,427.48 869.74,426.82 870.39,426.27 871.04,425.85 871.7,425.6 872.35,425.53 873,425.65 873.65,425.95 874.3,426.42 874.96,427.01 875.61,427.69 876.26,428.41 876.91,429.12 877.56,429.78 878.22,430.33 878.87,430.75 879.52,431 880.17,431.07 880.82,430.95 881.48,430.65 882.13,430.18 882.78,429.59 883.43,428.91 884.08,428.19 884.74,427.48" stroke="#d0403a" stroke-width="1.22" fill="none"/>
<path d="M710.7,443.5 L745,455.2 M708,453.4 L742.4,464.3" stroke="#a87040" stroke-width="1.6" fill="none"/>
<rect x="744.75" y="452.5" width="18.5" height="10" rx="5" transform="rotate(18 754 457.5)" fill="#e9b250" stroke="#c9923a" stroke-width="0.7"/>
<rect x="762.25" y="458.4" width="18.5" height="10" rx="5" transform="rotate(18 771.5 463.4)" fill="#e9b250" stroke="#c9923a" stroke-width="0.7"/>
<rect x="741.75" y="462" width="18.5" height="10" rx="5" transform="rotate(18 751 467)" fill="#e9b250" stroke="#c9923a" stroke-width="0.7"/>
<rect x="759.25" y="468.4" width="18.5" height="10" rx="5" transform="rotate(18 768.5 473.4)" fill="#e9b250" stroke="#c9923a" stroke-width="0.7"/>
<path d="M803,474.2 L832.7,484.2 M798.4,482.4 L830,493.2 M803,474.2 L801,482" stroke="#6a3a9a" stroke-width="1.6" fill="none"/>
<rect x="782" y="463" width="22" height="10" rx="5" transform="rotate(25 793 468)" fill="#8a68a8" stroke="#6a4888" stroke-width="0.7"/>
<rect x="776.75" y="477.15" width="22.5" height="10.5" rx="5.25" transform="rotate(8 788 482.4)" fill="#8a68a8" stroke="#6a4888" stroke-width="0.7"/>
<path d="M683.6,491.4 L716,508.6" stroke="#8a3a8a" stroke-width="2" fill="none"/>
<rect x="714" y="508.5" width="44" height="13" rx="3" transform="rotate(25 736 515)" fill="#b08cc8" stroke="#8a5ca8" stroke-width="0.8"/>
<rect x="709.5" y="518.5" width="14" height="13" rx="3" transform="rotate(25 716.5 525)" fill="#b08cc8" stroke="#8a5ca8" stroke-width="0.8"/>
<rect x="723" y="528.5" width="24" height="13" rx="3" transform="rotate(25 735 535)" fill="#b08cc8" stroke="#8a5ca8" stroke-width="0.8"/>
<circle cx="750" cy="534" r="8.5" fill="#ffffff"/>
<circle cx="750.5" cy="534" r="7.6" fill="#9a88d0" stroke="#7a68b0" stroke-width="0.6"/>
<path d="M664,512 L692.6,530.8 M655.4,523 L684,543" stroke="#c8587a" stroke-width="2" fill="none"/>
<rect x="689" y="534" width="36" height="12" rx="3" transform="rotate(33 707 540)" fill="#f0a8b8" stroke="#d07890" stroke-width="0.8"/>
<rect x="682" y="548" width="36" height="12" rx="3" transform="rotate(33 700 554)" fill="#f0a8b8" stroke="#d07890" stroke-width="0.8"/>
<circle cx="722" cy="566" r="8.2" fill="#ffffff"/>
<circle cx="722" cy="566" r="7" fill="#f2a060" stroke="#d88040" stroke-width="0.6"/>
<path d="M797,546 L829.7,538.5 M799,556 L832,549.5 M806,544 L807,553" stroke="#2a8a9a" stroke-width="1.6" fill="none"/>
<rect x="757.75" y="548.75" width="18.5" height="8.5" rx="2" transform="rotate(-12 767 553)" fill="#a6d8e2" stroke="#70b0c0" stroke-width="0.8"/>
<rect x="776.25" y="544.75" width="18.5" height="8.5" rx="2" transform="rotate(-12 785.5 549)" fill="#a6d8e2" stroke="#70b0c0" stroke-width="0.8"/>
<rect x="760.25" y="559.25" width="18.5" height="8.5" rx="2" transform="rotate(-12 769.5 563.5)" fill="#a6d8e2" stroke="#70b0c0" stroke-width="0.8"/>
<rect x="778.75" y="555.25" width="18.5" height="8.5" rx="2" transform="rotate(-12 788 559.5)" fill="#a6d8e2" stroke="#70b0c0" stroke-width="0.8"/>
<path d="M575.8,565.5 L588,601.6" stroke="#8a5a2a" stroke-width="1.6"/>
<ellipse cx="578.5" cy="572.5" rx="2.4" ry="3.5" transform="rotate(-20 578.5 572.5)" fill="#f0d8b0" stroke="#a07040" stroke-width="0.6"/>
<ellipse cx="591" cy="605.8" rx="5.4" ry="6.6" transform="rotate(-20 591 605.8)" fill="#f1d9b2" stroke="#c59c6c" stroke-width="0.8"/>
<ellipse cx="595" cy="617" rx="5.4" ry="6.6" transform="rotate(-20 595 617)" fill="#f1d9b2" stroke="#c59c6c" stroke-width="0.8"/>
<ellipse cx="599.3" cy="626.5" rx="5.4" ry="6.6" transform="rotate(-20 599.3 626.5)" fill="#f1d9b2" stroke="#c59c6c" stroke-width="0.8"/>
<ellipse cx="603.5" cy="637.6" rx="5.4" ry="6.6" transform="rotate(-20 603.5 637.6)" fill="#f1d9b2" stroke="#c59c6c" stroke-width="0.8"/>
<path d="M600,648.5 C603,657 614,657 615.5,642" stroke="#d89a2a" stroke-width="3.2" fill="none" stroke-linecap="round"/>
<path d="M610.5,655 L620.8,677" stroke="#a88a30" stroke-width="1.5"/>
<circle cx="643.3" cy="564.2" r="4" fill="url(#rg17)"/>
<circle cx="645.1" cy="582.6" r="4" fill="url(#rg17)"/>
<circle cx="658.2" cy="602.8" r="4" fill="url(#rg17)"/>
<circle cx="642.7" cy="602.2" r="4" fill="url(#rg17)"/>
<circle cx="671.2" cy="619.3" r="4" fill="url(#rg17)"/>
<circle cx="651.6" cy="623" r="4" fill="url(#rg17)"/>
<circle cx="659" cy="639" r="4" fill="url(#rg17)"/>
<path d="M628,567.3 C636,598 652,622 682.7,633.86" fill="none" stroke="url(#g13)" stroke-width="2.6" stroke-linecap="round"/>
<path d="M691.1,637.1 L677.56,638.84 L682.14,633.64 L682.25,626.71Z" fill="#8898c2"/>
</svg></body></html>
